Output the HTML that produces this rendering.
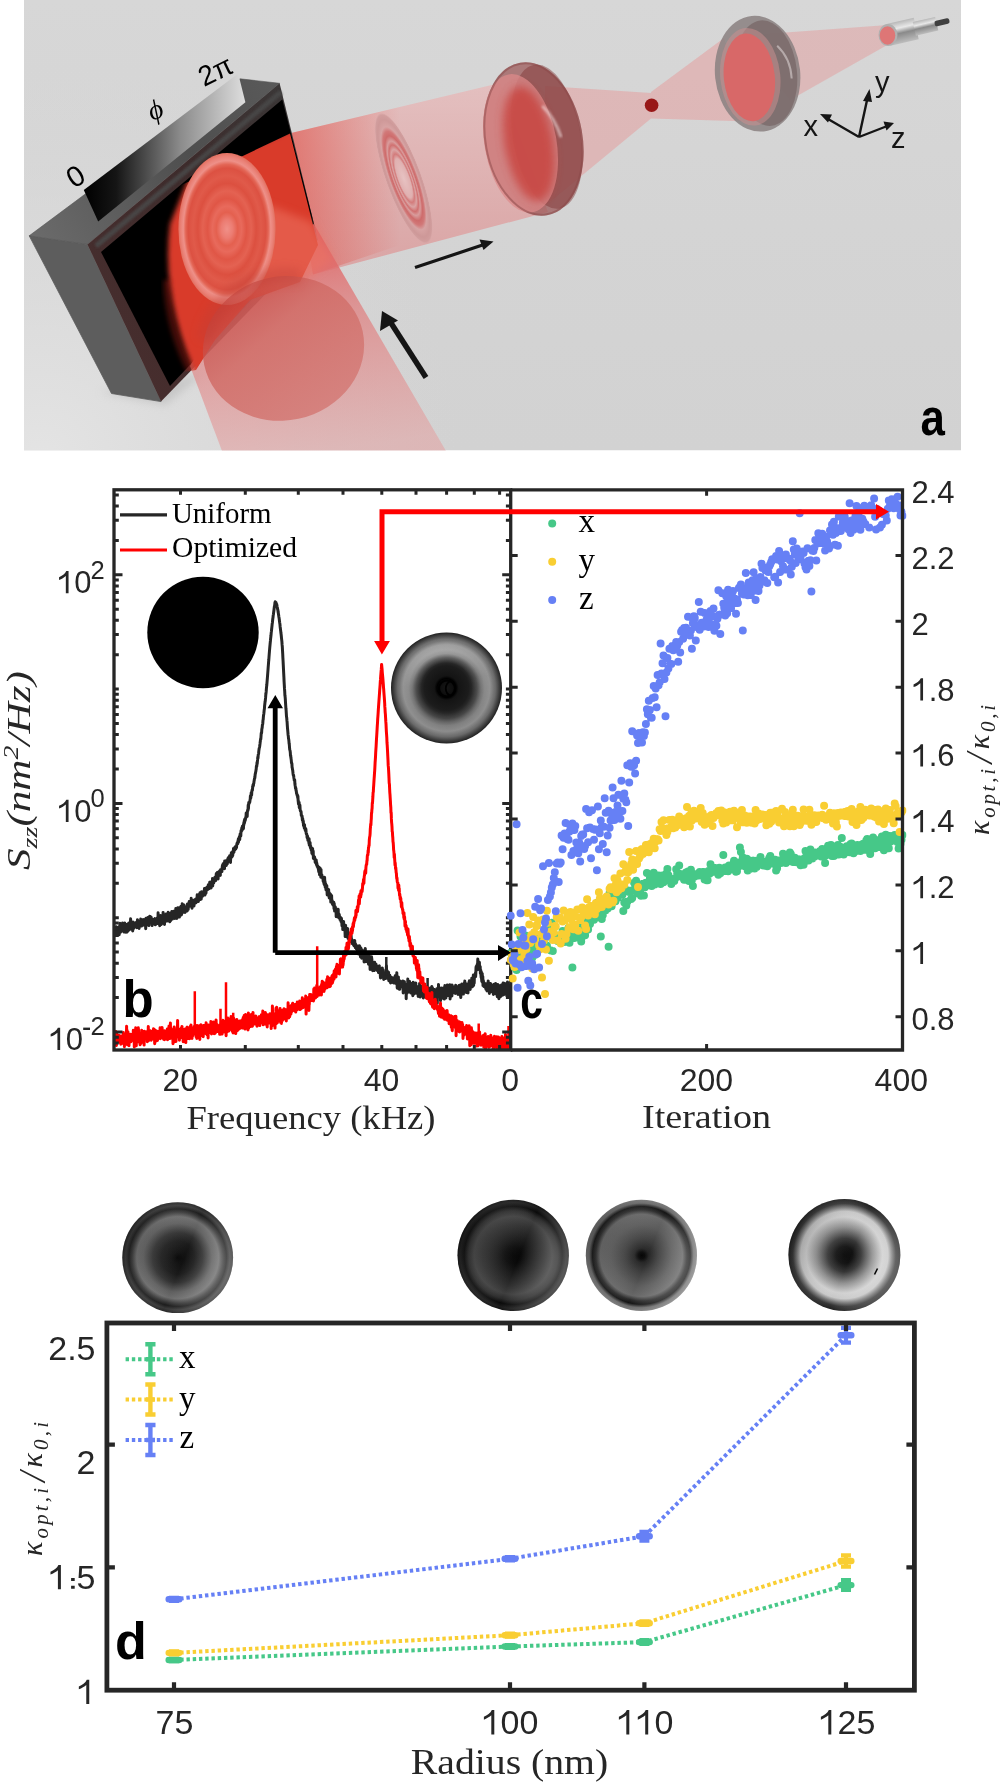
<!DOCTYPE html><html><head><meta charset="utf-8"><style>html,body{margin:0;padding:0;background:#fff;overflow:hidden}svg{display:block;will-change:transform}text{font-kerning:normal}</style></head><body>
<svg width="1000" height="1783" viewBox="0 0 1000 1783">
<rect width="1000" height="1783" fill="#fff"/>
<defs>
<clipPath id="ca"><rect x="24" y="0" width="937" height="450.5"/></clipPath>
<linearGradient id="abg" x1="0" y1="0" x2="0" y2="1"><stop offset="0" stop-color="#d7d7d7"/><stop offset="0.5" stop-color="#d4d4d4"/><stop offset="1" stop-color="#d2d2d2"/></linearGradient>
<radialGradient id="abg2" gradientUnits="userSpaceOnUse" cx="40" cy="460" r="420"><stop offset="0" stop-color="#e4e4e4" stop-opacity="1"/><stop offset="0.5" stop-color="#dedede" stop-opacity="0.6"/><stop offset="1" stop-color="#d6d6d6" stop-opacity="0"/></radialGradient>
<linearGradient id="gtop" gradientUnits="userSpaceOnUse" x1="40" y1="240" x2="280" y2="80"><stop offset="0" stop-color="#6a6a6a"/><stop offset="0.6" stop-color="#4e4e4e"/><stop offset="1" stop-color="#5a5a5a"/></linearGradient>
<linearGradient id="gemit" gradientUnits="userSpaceOnUse" x1="295" y1="0" x2="400" y2="0"><stop offset="0" stop-color="#e04a40" stop-opacity="0.55"/><stop offset="1" stop-color="#e04a40" stop-opacity="0"/></linearGradient>
<linearGradient id="gbar" x1="0" y1="0" x2="1" y2="0"><stop offset="0" stop-color="#000"/><stop offset="0.2" stop-color="#151515"/><stop offset="0.6" stop-color="#8c8c8c"/><stop offset="1" stop-color="#dedede"/></linearGradient>
<linearGradient id="gframe" x1="0" y1="1" x2="1" y2="0"><stop offset="0" stop-color="#4a2e2e"/><stop offset="0.6" stop-color="#3d2c2c"/><stop offset="1" stop-color="#3a3a3a"/></linearGradient>
<radialGradient id="grings" cx="0.5" cy="0.5" r="0.5">
<stop offset="0" stop-color="#f09088"/><stop offset="0.12" stop-color="#ec7c72"/><stop offset="0.22" stop-color="#e4604f"/><stop offset="0.3" stop-color="#e86a5c"/>
<stop offset="0.4" stop-color="#e05646"/><stop offset="0.5" stop-color="#e46252"/><stop offset="0.6" stop-color="#dc5040"/><stop offset="0.7" stop-color="#e05a4a"/>
<stop offset="0.8" stop-color="#dc5142"/><stop offset="0.85" stop-color="#e36656"/><stop offset="0.9" stop-color="#ee9088"/><stop offset="0.95" stop-color="#ea8278"/><stop offset="1" stop-color="#e27060"/></radialGradient>
<radialGradient id="grings2" cx="0.5" cy="0.5" r="0.5">
<stop offset="0" stop-color="#e8c4c4"/><stop offset="0.3" stop-color="#e0b0b0"/><stop offset="0.37" stop-color="#d27676"/><stop offset="0.44" stop-color="#daa2a2"/>
<stop offset="0.51" stop-color="#cf6a6a"/><stop offset="0.57" stop-color="#d89a9a"/><stop offset="0.65" stop-color="#cc6464"/><stop offset="0.72" stop-color="#d07272"/><stop offset="0.79" stop-color="#d6a2a2"/><stop offset="0.9" stop-color="#cc9696"/><stop offset="0.97" stop-color="#d09c9c"/><stop offset="1" stop-color="#d8a8a8" stop-opacity="0.6"/></radialGradient>
<linearGradient id="ginc" gradientUnits="userSpaceOnUse" x1="300" y1="240" x2="330" y2="450"><stop offset="0" stop-color="#e06060" stop-opacity="0.9"/><stop offset="0.35" stop-color="#e07a7a" stop-opacity="0.7"/><stop offset="1" stop-color="#e4a0a0" stop-opacity="0.55"/></linearGradient>
<linearGradient id="gcirc" x1="0.15" y1="0.05" x2="0.75" y2="0.95"><stop offset="0" stop-color="#c03a34" stop-opacity="0.55"/><stop offset="0.4" stop-color="#d06a64" stop-opacity="0.8"/><stop offset="1" stop-color="#d47a76" stop-opacity="0.85"/></linearGradient>
<linearGradient id="gbeam" x1="0" y1="0" x2="0" y2="1"><stop offset="0" stop-color="#e8b8b8"/><stop offset="0.5" stop-color="#e2a6a6"/><stop offset="1" stop-color="#dc9494"/></linearGradient>
<radialGradient id="glens1" cx="0.55" cy="0.5" r="0.55"><stop offset="0" stop-color="#c83c36"/><stop offset="0.6" stop-color="#d05450"/><stop offset="1" stop-color="#c86a68"/></radialGradient>
<radialGradient id="glens2" cx="0.5" cy="0.5" r="0.55"><stop offset="0" stop-color="#c95a58"/><stop offset="1" stop-color="#d06464"/></radialGradient>
<linearGradient id="gmetal" x1="0" y1="0" x2="0" y2="1"><stop offset="0" stop-color="#b8b8b8"/><stop offset="0.3" stop-color="#e8e8e8"/><stop offset="0.55" stop-color="#8a8a8a"/><stop offset="1" stop-color="#bdbdbd"/></linearGradient>
<filter id="bl2" x="-20%" y="-20%" width="140%" height="140%"><feGaussianBlur stdDeviation="2.5"/></filter>
<filter id="bl4" x="-30%" y="-30%" width="160%" height="160%"><feGaussianBlur stdDeviation="4"/></filter>
<filter id="bl10" x="-50%" y="-50%" width="200%" height="200%"><feGaussianBlur stdDeviation="10"/></filter>
<filter id="bl1"><feGaussianBlur stdDeviation="0.8"/></filter>
</defs>
<g clip-path="url(#ca)">
<rect x="24" y="0" width="937" height="450.5" fill="url(#abg)"/>
<rect x="24" y="0" width="937" height="450.5" fill="url(#abg2)"/>
<path d="M100 392 L165 405 L205 372 L175 380 Z" fill="#b8b8b8" opacity="0.6" filter="url(#bl4)"/>
<path d="M740 36 L888 25 L889 44 L790 100 Z" fill="#e2a2a2" opacity="0.55"/>
<path d="M651 92 L724 38 L750 121.5 L651 118.5 Z" fill="#e2a4a4" opacity="0.6"/>
<g transform="rotate(-6 757.6 73.7)">
<ellipse cx="757.6" cy="73.7" rx="42.6" ry="58" fill="#8a8080" opacity="0.85"/>
<ellipse cx="766" cy="74" rx="31" ry="53" fill="#6e5a5a" opacity="0.55"/>
<ellipse cx="750" cy="76" rx="30" ry="49" fill="#c89090" opacity="0.55"/>
<ellipse cx="749" cy="76.5" rx="25.5" ry="44" fill="#d86868"/>
<path d="M780 48 Q 792 62 791 82" stroke="#d8d0d0" stroke-width="2" fill="none" opacity="0.6"/>
</g>
<g transform="rotate(-13 888 35)">
<rect x="888" y="24" width="29" height="22" fill="url(#gmetal)"/>
<rect x="915" y="28" width="23" height="14" fill="url(#gmetal)"/>
<rect x="936" y="32" width="15" height="5.5" rx="2" fill="#404040"/>
</g>
<ellipse cx="888" cy="35" rx="9.5" ry="11" fill="#b0b0b0"/>
<ellipse cx="887.5" cy="35.5" rx="7.8" ry="9.2" fill="#de7676"/>
<path d="M545 86 L651 93 L651 118.5 L545 206 Z" fill="#e2a4a4" opacity="0.6"/>
<circle cx="651.6" cy="105.3" r="6.8" fill="#981818"/>
<path d="M289 133.5 L500 83 L548 212 L313 274.5 Z" fill="url(#gbeam)" opacity="0.75"/>
<path d="M289 133.5 L400 107 L400 245 L313 274.5 Z" fill="url(#gemit)"/>
<ellipse cx="403.7" cy="178.3" rx="17.5" ry="69" fill="url(#grings2)" opacity="0.9" transform="rotate(-20 403.7 178.3)"/>
<g transform="rotate(-10 533.5 139)">
<ellipse cx="533.5" cy="139" rx="49" ry="77.5" fill="#9c5a5a" opacity="0.75"/>
<ellipse cx="547" cy="139" rx="34" ry="73" fill="#7e3434" opacity="0.45"/>
<ellipse cx="520" cy="141" rx="36" ry="70" fill="#dc8a8a" opacity="0.75"/>
<ellipse cx="528" cy="143" rx="24" ry="58" fill="#c83c38" opacity="0.75" filter="url(#bl4)"/>
<path d="M548 108 Q 558 122 561 142" stroke="#f4e4e4" stroke-width="3" fill="none" opacity="0.6" filter="url(#bl1)"/>
<ellipse cx="533.5" cy="139" rx="48" ry="76.5" fill="none" stroke="#8a4848" stroke-width="2" opacity="0.5"/>
</g>
<polygon points="29.2,235.8 87.4,244.4 161,401.6 111.5,393.5" fill="#5d5d5d" stroke="#5d5d5d" stroke-width="0.8"/>
<polygon points="29.2,235.8 240,78.8 279.6,83.3 87.4,244.4" fill="url(#gtop)" stroke="#555" stroke-width="0.6"/>
<polygon points="87.4,244.4 279.6,83.3 318,240 161,401.6" fill="url(#gframe)"/>
<polygon points="101,252 282.3,99.5 316,232 170,386" fill="#000"/>
<path d="M96 246 L281 92" stroke="#4a4a4a" stroke-width="5" opacity="0.85" filter="url(#bl1)"/>
<polygon points="83.8,190 98.2,221.6 245.4,102.2 238.2,73.4" fill="url(#gbar)"/>
<path d="M190 366 L222 451 L446 451 L314 224 L260 250 Z" fill="url(#ginc)"/>
<clipPath id="cslm"><path d="M150 200 L290 133.5 L318 245 L300 282 L250 300 L215 340 L196 370 L150 378 Z"/></clipPath>
<g clip-path="url(#cslm)">
<path d="M190 174 L295 128 L345 250 L262 340 L200 385 Q 160 300 170 224 Z" fill="#d93a2b" filter="url(#bl2)"/>
<path d="M194 378 Q 168 330 167 280" stroke="#b02018" stroke-width="7" fill="none" opacity="0.4" filter="url(#bl2)"/>
</g>
<path d="M268 205 L312 222 L333 260 L300 283 L245 300 L255 255 Z" fill="#ee7464" opacity="0.55" filter="url(#bl4)"/>
<ellipse cx="227" cy="229" rx="48.6" ry="76" fill="url(#grings)"/>
<ellipse cx="283.5" cy="348.4" rx="81" ry="72" fill="url(#gcirc)" transform="rotate(-12 283.5 348.4)"/>
<path d="M205 340 A80 72.4 0 0 1 300 277" stroke="#c04038" stroke-width="16" fill="none" opacity="0.35" filter="url(#bl4)"/>
<path d="M415 267.6 L484 244.5" stroke="#151515" stroke-width="3.2"/><path d="M493.5 241.5 L479.5 239.5 L483.5 250 Z" fill="#151515"/>
<path d="M426 377.5 L391 323" stroke="#151515" stroke-width="5.5"/><path d="M382 311 L380 331 L398 320.5 Z" fill="#151515"/>
<path d="M859 137 L867.5 98 M859 137 L828 119 M859 137 L886 126.5" stroke="#151515" stroke-width="2.4"/>
<path d="M869.5 89 L863 101 L872 102 Z M820 114 L832 114.5 L828 122.5 Z M894 123 L883.5 121.5 L886.5 130.5 Z" fill="#151515"/>
<text font-family="Liberation Sans" font-size="29" fill="#151515" x="875" y="92">y</text><text font-family="Liberation Sans" font-size="29" fill="#151515" x="803.5" y="135.5">x</text><text font-family="Liberation Sans" font-size="29" fill="#151515" x="891" y="147.5">z</text>
<text font-family="Liberation Sans" font-size="29" fill="#000" transform="translate(74 189) rotate(-32)">0</text>
<text font-family="Liberation Serif" font-style="italic" font-size="28" fill="#000" transform="translate(152 121) rotate(-22)">ϕ</text>
<text font-family="Liberation Sans" font-size="28" fill="#000" transform="translate(204 87) rotate(-26)">2π</text>
<text transform="translate(920.5 435) scale(0.86 1)" font-family="Liberation Sans" font-weight="bold" font-size="51" fill="#000">a</text>
</g>
<g id="pb">
<clipPath id="cb"><rect x="114.0" y="489.8" width="396.7" height="560.2"/></clipPath>
<g clip-path="url(#cb)" fill="none" stroke-linejoin="round">
<path d="M113 936.4L113.2 932.9 113.4 931.9 113.6 926.8 113.8 930.8 114 930.6 114.2 931.2 114.4 929.7 114.6 931.2 114.8 930 115 927.7 115.2 933.4 115.4 933.3 115.6 935.3 115.8 931 116 929.8 116.2 929.3 116.4 926.7 116.6 933.1 116.8 927.7 117 927.4 117.2 929.9 117.4 934.2 117.6 930.9 117.8 927.6 118 928.3 118.2 931.7 118.4 929.6 118.6 928 118.8 929.3 119 931.7 119.2 934.8 119.4 926.5 119.6 928 119.8 927.5 120 923.3 120.2 927 120.4 926.7 120.6 932.2 120.8 928.9 121 925 121.2 930.7 121.4 928.1 121.6 924.5 121.8 927.4 122 927.3 122.2 926.5 122.4 928.8 122.6 922.9 122.8 927.9 123 931.1 123.2 930.6 123.4 931.2 123.6 931.2 123.8 932 124 925.3 124.2 930.3 124.4 923.3 124.6 926.5 124.8 923.1 125 930.5 125.2 931.2 125.4 927.2 125.6 932.2 125.8 925.9 126 927.9 126.2 927.9 126.4 924.7 126.6 928.5 126.8 932.2 127 924.6 127.2 929.5 127.4 926.7 127.6 931.5 127.8 928.2 128 928.6 128.2 928.5 128.4 927.4 128.6 923.2 128.8 930.2 129 923.1 129.2 927.2 129.4 928 129.6 924.3 129.8 926.7 130 929.3 130.2 926.2 130.4 923.9 130.6 918.8 130.8 923.6 131 924.5 131.1 924.6 131.3 923.5 131.5 926.8 131.7 924.3 131.9 925.4 132.1 927.3 132.3 923.4 132.5 924.8 132.7 930.9 132.9 927.6 133.1 922.1 133.3 925.1 133.5 926.6 133.7 928.3 133.9 925.5 134.1 923.7 134.3 923.1 134.5 926.5 134.7 925.7 134.9 923.5 135.1 924.3 135.3 923.6 135.5 926.4 135.7 922.8 135.9 925.7 136.1 926.6 136.3 925.6 136.5 922.3 136.7 927.7 136.9 922.5 137.1 925.2 137.3 922.2 137.5 919.7 137.7 924.6 137.9 924.7 138.1 923.7 138.3 924.5 138.5 922.2 138.7 921.9 138.9 923.3 139.1 928.4 139.3 925.6 139.5 922.2 139.7 924.9 139.9 922.2 140.1 922.2 140.3 925.5 140.5 922 140.7 919.1 140.9 920.9 141.1 923.3 141.3 923.4 141.5 926.1 141.7 921.2 141.9 924.7 142.1 923.9 142.3 922.5 142.5 924.9 142.7 924 142.9 920.5 143.1 925.3 143.3 919.6 143.5 922.7 143.7 922.5 143.9 923.5 144.1 920.6 144.3 922.3 144.5 922 144.7 924.7 144.9 920.3 145.1 922.4 145.3 921.5 145.5 918.9 145.7 928.7 145.9 921.8 146.1 918.3 146.3 925.4 146.5 919.2 146.7 922.7 146.9 923.9 147.1 920.1 147.3 920.6 147.5 920.3 147.7 921.3 147.9 917.6 148.1 918.5 148.3 921.1 148.5 924 148.7 922.9 148.9 925.6 149.1 923 149.3 920 149.5 920.9 149.7 916.2 149.9 918.8 150.1 918.6 150.3 921.7 150.5 922.6 150.7 919.6 150.9 919.5 151.1 917.1 151.3 920.5 151.5 921.4 151.7 921.8 151.9 918.8 152.1 925.6 152.3 923.6 152.5 920.3 152.7 919.2 152.9 919.7 153.1 920.8 153.3 920.4 153.5 921.5 153.7 922.2 153.9 923.6 154.1 923 154.3 919.9 154.5 921.1 154.7 919.2 154.9 918.6 155.1 924.7 155.3 918.8 155.5 924.8 155.7 919 155.9 920.5 156.1 922.5 156.3 919.8 156.5 920.7 156.7 919.1 156.9 918.5 157.1 919.2 157.3 917.9 157.5 923.5 157.7 919 157.9 923.6 158.1 912.8 158.3 919.4 158.5 920.6 158.7 918.5 158.9 921.8 159.1 920.7 159.3 918.4 159.5 920.1 159.7 925.8 159.9 919.6 160.1 919.6 160.3 917.8 160.5 919.1 160.7 915.6 160.9 918.2 161.1 924.6 161.3 921.2 161.5 920.1 161.7 921.2 161.9 923 162.1 919.9 162.3 923.4 162.5 920.9 162.7 918.7 162.9 922.4 163.1 912.4 163.3 916.7 163.5 918.7 163.7 915.8 163.9 917.6 164.1 916.3 164.3 916.3 164.5 924.4 164.7 919.3 164.9 917.6 165.1 920.8 165.3 917 165.5 919.7 165.7 918.3 165.9 921.3 166.1 913.9 166.3 919.2 166.5 917.5 166.7 914.4 166.9 919.7 167.1 915 167.3 920.9 167.4 918.2 167.6 918.6 167.8 917 168 919 168.2 912.2 168.4 916.8 168.6 915.1 168.8 917.2 169 916.4 169.2 917.9 169.4 914.3 169.6 920.7 169.8 921.8 170 915.6 170.2 916.1 170.4 916.7 170.6 919 170.8 920.5 171 912.9 171.2 914.3 171.4 913.1 171.6 912.9 171.8 911.6 172 916.4 172.2 912.6 172.4 919 172.6 917.5 172.8 912.7 173 912.7 173.2 913.6 173.4 918.3 173.6 912.9 173.8 911.3 174 914.6 174.2 915.6 174.4 913 174.6 918.4 174.8 915 175 915.5 175.2 912.3 175.4 914.1 175.6 913.8 175.8 908.6 176 914.7 176.2 909.6 176.4 913.8 176.6 910.2 176.8 918.5 177 914.3 177.2 915.5 177.4 915.6 177.6 910.1 177.8 907.8 178 912.3 178.2 915.1 178.4 913.1 178.6 914.7 178.8 914.9 179 909.1 179.2 913.2 179.4 917.1 179.6 911 179.8 907.4 180 911.5 180.2 910.9 180.4 912.9 180.6 909.7 180.8 911.9 181 906.3 181.2 913.4 181.4 915 181.6 914.2 181.8 907.5 182 911.7 182.2 903.8 182.4 911.4 182.6 910.4 182.8 908.1 183 911.1 183.2 910.5 183.4 912.3 183.6 910.2 183.8 910.4 184 905.1 184.2 906.8 184.4 908.3 184.6 910 184.8 909.1 185 912.5 185.2 906.9 185.4 908.2 185.6 909.2 185.8 907.9 186 909.5 186.2 906.8 186.4 911.3 186.6 907.1 186.8 910.3 187 907.5 187.2 910.9 187.4 904.1 187.6 908.3 187.8 906 188 907.4 188.2 909.4 188.4 903.9 188.6 903.3 188.8 903.9 189 906.6 189.2 901.6 189.4 906 189.6 902.6 189.8 902.8 190 904.4 190.2 906 190.4 903.5 190.6 903.6 190.8 904.5 191 903.8 191.2 898.2 191.4 903.1 191.6 904.1 191.8 906.3 192 908.2 192.2 904.9 192.4 903.4 192.6 900.9 192.8 903.1 193 904.5 193.2 905.4 193.4 900.4 193.6 902.7 193.8 903.9 194 906 194.2 902.3 194.4 900.3 194.6 899.8 194.8 900.3 195 899.5 195.2 902.6 195.4 903 195.6 902 195.8 902.9 196 899 196.2 900.7 196.4 898.8 196.6 899.6 196.8 902 197 899 197.2 894.8 197.4 898.2 197.6 897 197.8 895 198 896.4 198.2 900.1 198.4 901.5 198.6 896.5 198.8 899.6 199 899.8 199.2 894.5 199.4 896.7 199.6 896.5 199.8 896.8 200 892.7 200.2 895.3 200.4 898.1 200.6 898.4 200.8 899.4 201 894.5 201.2 899.1 201.4 896.3 201.6 891.7 201.8 896.1 202 893.5 202.2 895.2 202.4 893.6 202.6 896.2 202.8 894 203 892.6 203.2 895.1 203.4 893.4 203.6 891.7 203.7 895.1 203.9 891.3 204.1 890.6 204.3 890.6 204.5 888.5 204.7 890.2 204.9 895.1 205.1 889 205.3 890.8 205.5 888.2 205.7 889.1 205.9 893.4 206.1 891.8 206.3 888.4 206.5 889.5 206.7 887.6 206.9 887.5 207.1 887 207.3 886.8 207.5 889.2 207.7 889.5 207.9 889.1 208.1 887.5 208.3 884.8 208.5 887.3 208.7 885.3 208.9 888.8 209.1 887.9 209.3 888.1 209.5 885.6 209.7 882.3 209.9 887.8 210.1 888.1 210.3 882.3 210.5 885.4 210.7 887.3 210.9 882.4 211.1 888 211.3 883.4 211.5 881.7 211.7 886.4 211.9 884 212.1 881.8 212.3 884.6 212.5 878.6 212.7 886 212.9 880.4 213.1 882.4 213.3 880.7 213.5 882.1 213.7 882.8 213.9 879 214.1 882 214.3 879.6 214.5 878.5 214.7 879.1 214.9 877.3 215.1 877.4 215.3 880.6 215.5 878.2 215.7 880.5 215.9 878.8 216.1 875.6 216.3 873.6 216.5 875.7 216.7 877.3 216.9 876.5 217.1 874.5 217.3 877.9 217.5 872.2 217.7 872.8 217.9 875.2 218.1 879 218.3 875.2 218.5 872.1 218.7 875 218.9 874.8 219.1 875 219.3 872.1 219.5 871.1 219.7 872.6 219.9 872.8 220.1 874.8 220.3 875.4 220.5 869.7 220.7 869.8 220.9 870.4 221.1 869.8 221.3 870.9 221.5 870.6 221.7 869.8 221.9 871.6 222.1 868.5 222.3 866.5 222.5 865.2 222.7 866 222.9 865.6 223.1 863.8 223.3 868.3 223.5 867.1 223.7 865.6 223.9 864.5 224.1 862.9 224.3 863.9 224.5 868.7 224.7 860.9 224.9 865 225.1 865.8 225.3 864.4 225.5 863.3 225.7 865 225.9 861.3 226.1 864 226.3 865.4 226.5 860.6 226.7 860.7 226.9 862.2 227.1 863.4 227.3 863.8 227.5 862.3 227.7 859.6 227.9 858.5 228.1 860.6 228.3 860.6 228.5 857.6 228.7 859.4 228.9 859.6 229.1 860.6 229.3 856.7 229.5 859.1 229.7 855.7 229.9 856.7 230.1 857 230.3 859.5 230.5 862.4 230.7 856.7 230.9 856.8 231.1 857.3 231.3 852.9 231.5 856.2 231.7 852.4 231.9 857 232.1 856.4 232.3 854.4 232.5 851.8 232.7 855.7 232.9 852.9 233.1 852.3 233.3 852.7 233.5 848.4 233.7 851.7 233.9 852.3 234.1 850.8 234.3 850 234.5 847.8 234.7 850.1 234.9 848.9 235.1 848.2 235.3 846.8 235.5 848.8 235.7 849 235.9 847.1 236.1 847.5 236.3 847.8 236.5 847.7 236.7 845 236.9 843.9 237.1 843.1 237.3 843.3 237.5 843.6 237.7 843.8 237.9 841.1 238.1 841.5 238.3 839.1 238.5 842.2 238.7 839 238.9 839.7 239.1 837.5 239.3 837.6 239.5 836.4 239.7 839.6 239.9 836.9 240 835.5 240.2 833.8 240.4 833.7 240.6 834.9 240.8 836 241 830.7 241.2 830.9 241.4 831.4 241.6 830.1 241.8 828 242 829.8 242.2 830.3 242.4 826.2 242.6 828.2 242.8 828.7 243 828 243.2 825.3 243.4 828.6 243.6 825.4 243.8 822.8 244 824.7 244.2 821 244.4 823.1 244.6 819.4 244.8 821.6 245 819 245.2 820.6 245.4 819.4 245.6 818.2 245.8 817 246 817.6 246.2 813 246.4 815.2 246.6 814.4 246.8 813.9 247 813.5 247.2 816.5 247.4 811 247.6 811.1 247.8 809.4 248 810.5 248.2 805.1 248.4 809 248.6 805.2 248.8 802.4 249 803 249.2 803.3 249.4 803 249.6 801.8 249.8 802 250 800.1 250.2 799.3 250.4 795.9 250.6 798.2 250.8 797.9 251 795.4 251.2 792.8 251.4 792.5 251.6 795.1 251.8 791.6 252 790.6 252.2 789.5 252.4 790.3 252.6 787.9 252.8 786.6 253 784.9 253.2 785.4 253.4 785.6 253.6 783.3 253.8 783.4 254 781.6 254.2 780.4 254.4 779.4 254.6 778.1 254.8 778 255 776.3 255.2 774.1 255.4 773.6 255.6 772.2 255.8 771.6 256 770.1 256.2 769.1 256.4 766.1 256.6 766.6 256.8 766.2 257 762.5 257.2 763.9 257.4 761.4 257.6 759.7 257.8 757 258 758.2 258.2 755.1 258.4 754.2 258.6 753.7 258.8 751.1 259 749.7 259.2 748.2 259.4 747.7 259.6 746.8 259.8 745.3 260 743.9 260.2 741.9 260.4 740.8 260.6 738.8 260.8 739.2 261 736.5 261.2 733.6 261.4 732.6 261.6 732.9 261.8 729.4 262 728.4 262.2 727.4 262.4 724.9 262.6 724.5 262.8 723.2 263 720.1 263.2 719.5 263.4 716.7 263.6 715 263.8 713.9 264 712.1 264.2 709.9 264.4 708.8 264.6 705.9 264.8 704.3 265 702.4 265.2 701.3 265.4 699.4 265.6 697.4 265.8 694.7 266 693.3 266.2 691.4 266.4 688.6 266.6 686.7 266.8 685 267 682.6 267.2 680.1 267.4 677.7 267.6 675.1 267.8 672.5 268 669.8 268.2 667 268.4 664.6 268.6 661.9 268.8 660 269 657 269.2 654.4 269.4 651.9 269.6 649.5 269.8 647.2 270 645.1 270.2 642.8 270.4 641 270.6 638.7 270.8 637 271 635.3 271.2 632.9 271.4 631.4 271.6 629.5 271.8 627.6 272 625.8 272.2 623.7 272.4 622.7 272.6 620.5 272.8 618.7 273 617.6 273.2 615.3 273.4 614.5 273.6 612.8 273.8 611.3 274 609.7 274.2 608 274.4 606.4 274.6 605.9 274.8 604.1 275 602.8 275.1 602.4 275.2 601.8 275.4 602 275.6 602.2 275.8 602.4 276 602.6 276.1 603.1 276.3 604.1 276.5 604.5 276.7 604.3 276.9 605.3 277.1 606.6 277.3 607.4 277.5 608.3 277.7 609.7 277.9 610 278.1 611.9 278.3 612.9 278.5 614.2 278.7 615.5 278.9 617 279.1 618.1 279.3 619.5 279.5 621.3 279.7 622.7 279.9 623.9 280.1 626.2 280.3 627.8 280.5 629.6 280.7 630.9 280.9 632.8 281.1 634.3 281.3 636 281.5 638.1 281.7 639.9 281.9 641.7 282.1 644.7 282.3 646.7 282.5 650.1 282.7 653.7 282.9 657.9 283.1 661.4 283.3 665.4 283.5 669.4 283.7 673.4 283.9 677.2 284.1 681.7 284.3 685.2 284.5 688.7 284.7 691.1 284.9 695.2 285.1 696.6 285.3 698.9 285.5 702.4 285.7 705.3 285.9 708.3 286.1 710 286.3 713.4 286.5 716.6 286.7 717.7 286.9 720.2 287.1 722 287.3 725.4 287.5 728.1 287.7 730.2 287.9 732.4 288.1 734.9 288.3 736 288.5 738.5 288.7 739.1 288.9 740.9 289.1 743.4 289.3 744.4 289.5 747.1 289.7 749.4 289.9 750.2 290.1 750.9 290.3 752.5 290.5 755.8 290.7 755.5 290.9 757.8 291.1 758.9 291.3 760.7 291.5 763 291.7 763 291.9 763.6 292.1 767.5 292.3 767.8 292.5 769.6 292.7 770.2 292.9 772.2 293.1 774 293.3 775.3 293.5 774.9 293.7 776.1 293.9 778 294.1 779 294.3 780.5 294.5 780.4 294.7 779.8 294.9 783.8 295.1 785.3 295.3 786.2 295.5 788.4 295.7 788.6 295.9 788.3 296.1 790.9 296.3 790.7 296.5 793.3 296.7 793.1 296.9 794.4 297.1 795.1 297.3 795.9 297.5 795.1 297.7 797.9 297.9 796 298.1 800.3 298.3 801.9 298.5 804.1 298.7 803 298.9 802.6 299.1 802.4 299.3 807.7 299.5 804.4 299.7 808.2 299.9 805 300.1 808.8 300.3 810.6 300.5 811 300.7 811.4 300.9 811.2 301.1 811.9 301.3 815.3 301.5 815.4 301.7 815.4 301.9 816.7 302.1 816 302.3 819.5 302.5 820.6 302.7 818.6 302.9 820.6 303.1 822.7 303.3 821.1 303.5 825.7 303.7 825.7 303.9 823.9 304.1 826.4 304.3 828.2 304.5 824.7 304.7 828.2 304.9 827.8 305.1 828.4 305.3 830.5 305.5 829.4 305.7 828.7 305.9 829.4 306.1 832.2 306.3 833.9 306.5 833.6 306.7 834.1 306.9 835 307.1 837.7 307.3 837.2 307.5 835.9 307.7 837.2 307.9 840.3 308.1 838.1 308.3 839 308.5 840.3 308.7 839.3 308.9 843.1 309.1 838.7 309.3 845.2 309.5 842.8 309.7 842.1 309.9 845.2 310.1 842.6 310.3 846.9 310.5 847.9 310.7 846.2 310.9 847.1 311.1 850 311.3 847.8 311.5 849.6 311.7 850.7 311.9 853.3 312.1 850.4 312.3 851.8 312.4 854.3 312.6 848.5 312.8 853 313 850.7 313.2 851.3 313.4 858.5 313.6 856 313.8 858.7 314 856.2 314.2 858.1 314.4 856.9 314.6 857.2 314.8 858.6 315 859.5 315.2 862.5 315.4 859.9 315.6 861.5 315.8 860.8 316 862.1 316.2 859.9 316.4 864.8 316.6 862.3 316.8 863.9 317 863.9 317.2 866.6 317.4 866.3 317.6 865.8 317.8 866.6 318 867.4 318.2 868.7 318.4 868.7 318.6 870.7 318.8 871.8 319 870.4 319.2 867.2 319.4 873.6 319.6 874.8 319.8 870.5 320 870.9 320.2 868.3 320.4 874.2 320.6 871.3 320.8 877.3 321 869.4 321.2 874.9 321.4 876.6 321.6 875 321.8 874.7 322 877.3 322.2 876.3 322.4 877.2 322.6 878.3 322.8 877.8 323 878.9 323.2 881.5 323.4 879.7 323.6 881.3 323.8 879.9 324 883.8 324.2 879.9 324.4 885 324.6 877.3 324.8 882.2 325 881.3 325.2 887.2 325.4 886.2 325.6 883.4 325.8 885.4 326 889.9 326.2 887.5 326.4 889.3 326.6 885.4 326.8 885.9 327 890.8 327.2 895 327.4 889.4 327.6 892.3 327.8 889.5 328 894.7 328.2 891.6 328.4 892.1 328.6 889.4 328.8 893.1 329 894.8 329.2 897.9 329.4 892.8 329.6 897.9 329.8 895.5 330 896.1 330.2 895.1 330.4 893.9 330.6 895.4 330.8 902.1 331 896.3 331.2 898.4 331.4 902.3 331.6 895.6 331.8 901.7 332 900 332.2 902.1 332.4 904 332.6 902.2 332.8 902.5 333 905.1 333.2 905.3 333.4 902.7 333.6 904.4 333.8 902.2 334 908.7 334.2 903.4 334.4 907 334.6 911.1 334.8 909.4 335 907.3 335.2 906.7 335.4 907.4 335.6 911.4 335.8 910.5 336 910.2 336.2 916.8 336.4 909.1 336.6 910.4 336.8 911.1 337 912.9 337.2 913.6 337.4 912.7 337.6 915.5 337.8 915.5 338 913.9 338.2 909.2 338.4 917.4 338.6 913.6 338.8 914.7 339 916.4 339.2 914.2 339.4 915.6 339.6 918.2 339.8 917.6 340 919.6 340.2 917.1 340.4 919.1 340.6 917.4 340.8 919.8 341 921.6 341.2 920.7 341.4 918.2 341.6 921.7 341.8 922.9 342 925.8 342.2 923.3 342.4 922.7 342.6 921.2 342.8 929.6 343 922.6 343.2 922.5 343.4 925.4 343.6 921.6 343.8 929.3 344 927.4 344.2 928.6 344.4 925.3 344.6 926.8 344.8 930.7 345 931.2 345.2 936.6 345.4 932.5 345.6 925.2 345.8 930.7 346 929.9 346.2 934 346.4 931.3 346.6 933.2 346.8 931.5 347 934.2 347.2 936.8 347.4 931.8 347.6 928.4 347.8 931.4 348 938.5 348.2 935.3 348.4 934.3 348.6 932.9 348.7 938.6 348.9 936.9 349.1 936.2 349.3 935.3 349.5 936.7 349.7 936.6 349.9 939.3 350.1 941.5 350.3 933.2 350.5 934.8 350.7 938.7 350.9 939.5 351.1 935.4 351.3 938.2 351.5 939.1 351.7 939.3 351.9 939.5 352.1 940.8 352.3 943.7 352.5 943.6 352.7 943.5 352.9 942.9 353.1 940.5 353.3 941.4 353.5 944.9 353.7 943.6 353.9 945.7 354.1 944.5 354.3 944.3 354.5 945.6 354.7 940.4 354.9 944.4 355.1 943.5 355.3 947.7 355.5 943.8 355.7 946.6 355.9 945 356.1 947.8 356.3 948.7 356.5 946.4 356.7 947.5 356.9 947.9 357.1 949.9 357.3 947 357.5 948.3 357.7 947.2 357.9 946 358.1 949.4 358.3 950.4 358.5 947.1 358.7 954.1 358.9 947.8 359.1 952.2 359.3 951.4 359.5 945.8 359.7 950.8 359.9 946.6 360.1 951 360.3 953.5 360.5 957 360.7 954.2 360.9 947.9 361.1 951.5 361.3 957 361.5 953.4 361.7 958.2 361.9 951.3 362.1 952 362.3 950 362.5 953 362.7 957.9 362.9 951.8 363.1 957.1 363.3 956.3 363.5 957.4 363.7 954.6 363.9 955.7 364.1 962 364.3 952.4 364.5 958.4 364.7 960.9 364.9 958 365.1 961.7 365.3 948.5 365.5 956.4 365.7 954.1 365.9 956.5 366.1 957.6 366.3 959.5 366.5 955.8 366.7 961.1 366.9 954.1 367.1 961.7 367.3 958.4 367.5 954.1 367.7 954.3 367.9 954.4 368.1 957 368.3 960.4 368.5 964.2 368.7 962.8 368.9 956.7 369.1 954.1 369.3 960.2 369.5 957 369.7 960.9 369.9 959.6 370.1 969.4 370.3 956.9 370.5 963.1 370.7 967.9 370.9 961.3 371.1 960.4 371.3 967.9 371.5 956.8 371.7 958.2 371.9 959.8 372.1 964.8 372.3 966.1 372.5 963.6 372.7 970.7 372.9 963.8 373.1 964.6 373.3 963.8 373.5 968.6 373.7 965.2 373.9 964.1 374.1 970.6 374.3 969.6 374.5 968.9 374.7 962.3 374.9 963 375.1 965.7 375.3 965.9 375.5 965.5 375.7 966.3 375.9 969.2 376.1 964.3 376.3 968.3 376.5 966.5 376.7 966.4 376.9 967.2 377.1 970.5 377.3 969.3 377.5 966.2 377.7 969.8 377.9 969.4 378.1 970.4 378.3 968.6 378.5 972.6 378.7 970.9 378.9 966.4 379.1 966.1 379.3 965.9 379.5 971.7 379.7 968.5 379.9 969.7 380.1 970.7 380.3 974.9 380.5 978 380.7 971.1 380.9 977.8 381.1 973.5 381.3 975.7 381.5 971.3 381.7 968.4 381.9 973.9 382.1 976.6 382.3 967.9 382.5 972.7 382.7 973.7 382.9 975.1 383.1 970 383.3 971.8 383.5 976.6 383.7 979.5 383.9 974.3 384.1 977.2 384.3 974.8 384.5 975.8 384.7 973.4 384.8 974 385 973.1 385.2 975.3 385.4 978.6 385.6 975.9 385.8 977.5 386 973.6 386.2 978 386.4 966 386.6 971.5 386.8 975.1 387 970.6 387.2 978.2 387.4 977.2 387.6 973.8 387.8 977.1 388 972.2 388.2 974.2 388.4 976 388.6 972.3 388.8 980.8 389 975.6 389.2 981 389.4 977.4 389.6 979 389.8 975.3 390 977.3 390.2 977.1 390.4 979.3 390.6 983 390.8 977 391 978.4 391.2 980.2 391.4 981.9 391.6 979 391.8 978.2 392 977.7 392.2 979.7 392.4 980.6 392.6 977.7 392.8 979.1 393 982.6 393.2 980.2 393.4 978.6 393.6 982.8 393.8 982.9 394 982.7 394.2 983 394.4 979.7 394.6 981.8 394.8 982.2 395 981.7 395.2 975.8 395.4 981.5 395.6 982.8 395.8 983.4 396 981 396.2 982.1 396.4 976.3 396.6 977.5 396.8 972.8 397 981.7 397.2 987.8 397.4 988.3 397.6 979.2 397.8 985 398 987.1 398.2 982.2 398.4 976.9 398.6 987.9 398.8 982.3 399 982.3 399.2 989.2 399.4 985.3 399.6 986.6 399.8 989.2 400 983.6 400.2 981.1 400.4 986.9 400.6 984.4 400.8 987 401 986 401.2 982.3 401.4 985 401.6 983.9 401.8 984.3 402 985.1 402.2 986.5 402.4 986.1 402.6 981.4 402.8 987.7 403 981.1 403.2 993 403.4 983.4 403.6 985.8 403.8 990.5 404 985.5 404.2 982.2 404.4 981.7 404.6 987.4 404.8 987.9 405 989.4 405.2 987.6 405.4 985.3 405.6 988.4 405.8 991.7 406 984.5 406.2 998.8 406.4 985.9 406.6 991.4 406.8 993.6 407 990.5 407.2 988.6 407.4 990 407.6 992.1 407.8 979.1 408 989.4 408.2 986.6 408.4 985.7 408.6 988.5 408.8 988.7 409 989.8 409.2 986.4 409.4 992.1 409.6 981.5 409.8 985.3 410 984.5 410.2 988.9 410.4 987 410.6 990.5 410.8 986.2 411 993.1 411.2 991.4 411.4 987.3 411.6 983.5 411.8 985.2 412 984.1 412.2 993.3 412.4 991.8 412.6 985.2 412.8 995.7 413 988.6 413.2 982.2 413.4 993.3 413.6 994 413.8 989.8 414 986.9 414.2 994 414.4 988.3 414.6 990 414.8 991.7 415 991.2 415.2 988.7 415.4 986.9 415.6 992.9 415.8 983.1 416 991.6 416.2 991.5 416.4 992.4 416.6 989.5 416.8 991.5 417 993.4 417.2 987.4 417.4 991.1 417.6 992.2 417.8 986.8 418 987.9 418.2 996.4 418.4 994.6 418.6 988.7 418.8 993.7 419 992.7 419.2 996 419.4 995.2 419.6 983.4 419.8 990.5 420 996.1 420.2 997 420.4 989.6 420.6 987.6 420.8 992.5 421 989.6 421.1 991.7 421.3 987.9 421.5 994.4 421.7 993.8 421.9 993.4 422.1 988.3 422.3 986.3 422.5 987.7 422.7 993.7 422.9 986 423.1 994.3 423.3 998 423.5 990 423.7 991.5 423.9 995.5 424.1 995.3 424.3 990.2 424.5 991.7 424.7 992.7 424.9 991.4 425.1 994.3 425.3 993.5 425.5 996.8 425.7 986.7 425.9 996.4 426.1 995.2 426.3 992.1 426.5 993.9 426.7 995.8 426.9 993.6 427.1 991.8 427.3 993.6 427.5 990.4 427.7 988.3 427.9 989.8 428.1 990.2 428.3 993.4 428.5 995.4 428.7 993.6 428.9 997.7 429.1 992.6 429.3 990.7 429.5 990.5 429.7 989.9 429.9 991.9 430.1 997.6 430.3 988.1 430.5 994.9 430.7 993 430.9 995.9 431.1 991.5 431.3 995.5 431.5 991.5 431.7 995.3 431.9 986.6 432.1 994.8 432.3 995.7 432.5 987.9 432.7 996.1 432.9 989.5 433.1 996.6 433.3 993.3 433.5 995.6 433.7 994.6 433.9 989.3 434.1 998.5 434.3 997.4 434.5 990 434.7 995.3 434.9 994.9 435.1 991.1 435.3 989.9 435.5 997.7 435.7 992.1 435.9 996.5 436.1 999.8 436.3 995.1 436.5 990.5 436.7 996.7 436.9 988.8 437.1 990.4 437.3 1003.2 437.5 990.7 437.7 994.6 437.9 989.8 438.1 993 438.3 994 438.5 984.5 438.7 991.1 438.9 995.5 439.1 996.2 439.3 994.4 439.5 990.1 439.7 994.5 439.9 991.6 440.1 990.6 440.3 993.2 440.5 1000.7 440.7 990.1 440.9 996.6 441.1 993.9 441.3 988.1 441.5 990 441.7 992.4 441.9 991.4 442.1 993.8 442.3 989.6 442.5 989.5 442.7 996.2 442.9 992.7 443.1 989.9 443.3 992.7 443.5 998.8 443.7 990.7 443.9 987.7 444.1 995.7 444.3 999.1 444.5 996.8 444.7 988.1 444.9 985.6 445.1 996.6 445.3 991.8 445.5 994 445.7 991.7 445.9 997.9 446.1 992.5 446.3 991.2 446.5 992.7 446.7 988.2 446.9 992.7 447.1 991.8 447.3 985 447.5 988.2 447.7 987.8 447.9 986.7 448.1 993.1 448.3 995.6 448.5 992.9 448.7 986.8 448.9 985.8 449.1 994.3 449.3 990.6 449.5 991.3 449.7 987.3 449.9 984.8 450.1 998.9 450.3 989.5 450.5 990.8 450.7 987.6 450.9 996.5 451.1 990.2 451.3 990.8 451.5 991.4 451.7 991.2 451.9 995.9 452.1 985.1 452.3 993.2 452.5 989 452.7 989.7 452.9 989 453.1 992.4 453.3 986.7 453.5 989.1 453.7 992.7 453.9 988.9 454.1 989.2 454.3 992 454.5 991 454.7 989.6 454.9 990.8 455.1 987.7 455.3 993.4 455.5 986.9 455.7 985.2 455.9 991.8 456.1 986 456.3 987.2 456.5 989.6 456.7 992.6 456.9 988.6 457.1 988.7 457.3 988.7 457.4 991.3 457.6 988.3 457.8 990.8 458 994.4 458.2 989.1 458.4 988.6 458.6 986.7 458.8 987.2 459 985.6 459.2 986 459.4 987.7 459.6 990.7 459.8 991.1 460 988.1 460.2 990.5 460.4 985.1 460.6 996.2 460.8 997.5 461 988.9 461.2 990.9 461.4 989.5 461.6 991.7 461.8 987 462 984.1 462.2 991.7 462.4 985.4 462.6 990.1 462.8 985.9 463 986.3 463.2 992.1 463.4 994.1 463.6 988.2 463.8 987.3 464 989.6 464.2 986.8 464.4 982.9 464.6 988.4 464.8 981.1 465 989.8 465.2 986.7 465.4 988.9 465.6 983.4 465.8 985.7 466 990 466.2 992.5 466.4 990.7 466.6 989.1 466.8 984.2 467 989.6 467.2 988.1 467.4 986.5 467.6 991.7 467.8 984.8 468 993 468.2 985 468.4 984.8 468.6 986.6 468.8 982.5 469 985.1 469.2 986.7 469.4 980.8 469.6 983.5 469.8 981.5 470 984.4 470.2 989.4 470.4 984.1 470.6 984.6 470.8 985.8 471 981.2 471.2 985.3 471.4 982.6 471.6 981.9 471.8 978.2 472 981.4 472.2 986.4 472.4 986.6 472.6 981.4 472.8 982.2 473 980.2 473.2 977.6 473.4 974.9 473.6 985.5 473.8 976.4 474 979.6 474.2 983.3 474.4 976.5 474.6 976.5 474.8 977.2 475 974.5 475.2 975.6 475.4 973 475.6 976.7 475.8 973.8 476 967.8 476.2 966.5 476.4 967.7 476.6 967 476.8 965.8 477 970 477.2 964.4 477.4 964.5 477.6 965.8 477.8 959.1 478 966 478.2 966.3 478.4 968.7 478.6 961.8 478.8 963.6 479 966 479.2 964.8 479.4 962.2 479.6 970 479.8 967.2 480 969.9 480.2 966.5 480.4 973.5 480.6 970.4 480.8 970.2 481 975.7 481.2 977.5 481.4 972 481.6 978.8 481.8 981.5 482 978 482.2 973.4 482.4 980.3 482.6 982.5 482.8 976.5 483 985.6 483.2 980.2 483.4 980.9 483.6 985.2 483.8 982.8 484 986.6 484.2 982.9 484.4 984.6 484.6 983.7 484.8 984.7 485 986.1 485.2 986.1 485.4 983.8 485.6 988.1 485.8 985 486 989.4 486.2 987.7 486.4 985.6 486.6 983.7 486.8 986.4 487 990.9 487.2 987.2 487.4 989.9 487.6 986.6 487.8 986 488 984.9 488.2 980.9 488.4 988.4 488.6 987.6 488.8 987.4 489 990.2 489.2 984.6 489.4 993.4 489.6 983.2 489.8 988.9 490 984.2 490.2 987.3 490.4 992 490.6 983.4 490.8 989 491 988.8 491.2 989.1 491.4 989.4 491.6 991.2 491.8 990.3 492 990 492.2 991.7 492.4 991 492.6 988.4 492.8 984.9 493 991.6 493.2 987.9 493.4 994.4 493.6 987.2 493.7 985.1 493.9 992.9 494.1 986.7 494.3 984.3 494.5 993.1 494.7 984.5 494.9 993.6 495.1 986.2 495.3 990.7 495.5 990.1 495.7 983.4 495.9 989.4 496.1 988 496.3 989.9 496.5 991.2 496.7 994.7 496.9 988.7 497.1 989.2 497.3 996.7 497.5 992 497.7 992.1 497.9 984.6 498.1 985 498.3 987.8 498.5 989.1 498.7 991.3 498.9 998.7 499.1 985.6 499.3 988.4 499.5 991.8 499.7 990.7 499.9 993.5 500.1 988.8 500.3 986.8 500.5 996.7 500.7 991.3 500.9 985.9 501.1 988.7 501.3 989.6 501.5 984.9 501.7 992.4 501.9 990.4 502.1 988.7 502.3 987.7 502.5 995.3 502.7 989.6 502.9 987.3 503.1 983.1 503.3 986.4 503.5 992.2 503.7 994.8 503.9 986.1 504.1 983.2 504.3 990 504.5 989.8 504.7 992.8 504.9 987.6 505.1 990.3 505.3 983.8 505.5 985.9 505.7 988.2 505.9 988.5 506.1 991.7 506.3 994 506.5 985.3 506.7 995.6 506.9 987.5 507.1 988.6 507.3 993.7 507.5 982.1 507.7 985.2 507.9 987.3 508.1 990.3 508.3 993.6 508.5 993.7 508.7 987.1 508.9 992.6 509.1 988.7 509.3 995 509.5 989.2 509.7 993.6 509.9 986.7 510.1 992.7 510.3 985.6 510.5 990.5 510.7 984.8 510.9 989.7 511.1 987.6 511.3 986.9 511.5 991 511.7 992.8" stroke="#262626" stroke-width="3"/>
<path d="M386.3 975.8 V957M427.6 992.8 V978" stroke="#262626" stroke-width="2.5"/>
<path d="M113 1040.2L113.2 1037.1 113.4 1048 113.6 1037.4 113.8 1038.8 114 1044.6 114.2 1034.7 114.4 1036 114.6 1039.1 114.8 1037 115 1033.5 115.2 1037.5 115.4 1036.8 115.6 1040.7 115.8 1031.6 116 1035.5 116.2 1042.8 116.4 1045.6 116.6 1032.2 116.8 1040.8 117 1034.3 117.2 1034.8 117.4 1034.7 117.6 1036.5 117.8 1042.1 118 1041 118.2 1038.3 118.4 1036.7 118.6 1038.1 118.8 1037.7 119 1041.2 119.2 1035.5 119.4 1038 119.6 1037.6 119.8 1037.8 120 1039 120.2 1038.8 120.4 1043.3 120.6 1037.6 120.8 1044.2 121 1036.7 121.2 1036 121.4 1038.3 121.6 1039.3 121.8 1039 122 1043 122.2 1042.4 122.4 1039.8 122.6 1036.5 122.8 1037.4 123 1043.4 123.2 1038.7 123.4 1032.6 123.6 1035 123.8 1035.5 124 1042.3 124.2 1037.3 124.4 1046.7 124.6 1040.3 124.8 1038.2 125 1036 125.2 1041.5 125.4 1036.7 125.6 1034.4 125.8 1039.9 126 1037.7 126.2 1042.3 126.4 1037.3 126.6 1026.3 126.8 1040.7 127 1030.1 127.2 1043.6 127.4 1044.8 127.6 1035.8 127.8 1032.9 128 1032 128.2 1040.9 128.4 1036.7 128.6 1035.1 128.8 1036.5 129 1045.7 129.2 1038.8 129.4 1040.4 129.6 1040.5 129.8 1041.4 130 1041.6 130.2 1034.5 130.4 1036.5 130.6 1034.3 130.8 1034.5 131 1041.8 131.1 1035.3 131.3 1036.9 131.5 1034.5 131.7 1034.9 131.9 1040.3 132.1 1035.4 132.3 1035.3 132.5 1039.1 132.7 1039.1 132.9 1040.3 133.1 1037.8 133.3 1030.2 133.5 1039.6 133.7 1039.1 133.9 1041.1 134.1 1033.7 134.3 1047 134.5 1032.1 134.7 1039.9 134.9 1037.2 135.1 1035.1 135.3 1040.2 135.5 1035.8 135.7 1027.7 135.9 1032.3 136.1 1038.7 136.3 1045.7 136.5 1031 136.7 1036.8 136.9 1042.6 137.1 1039.2 137.3 1035.3 137.5 1031.2 137.7 1029.7 137.9 1033.8 138.1 1035.3 138.3 1027.8 138.5 1030 138.7 1037.9 138.9 1035.1 139.1 1033.7 139.3 1035 139.5 1033.4 139.7 1040.3 139.9 1043.1 140.1 1044.8 140.3 1039.4 140.5 1039.5 140.7 1042.3 140.9 1043.4 141.1 1042.3 141.3 1041.3 141.5 1034 141.7 1030.2 141.9 1039.9 142.1 1036.1 142.3 1036.2 142.5 1032.9 142.7 1031.3 142.9 1041.9 143.1 1038.2 143.3 1032.1 143.5 1037.9 143.7 1037.5 143.9 1038.4 144.1 1045.1 144.3 1036.1 144.5 1031.2 144.7 1036.4 144.9 1033.7 145.1 1038.4 145.3 1037 145.5 1037.5 145.7 1033.9 145.9 1037.8 146.1 1034.1 146.3 1038.1 146.5 1034.9 146.7 1031.7 146.9 1038 147.1 1033.2 147.3 1041.7 147.5 1037.7 147.7 1037.8 147.9 1036.4 148.1 1035.7 148.3 1026.5 148.5 1040.7 148.7 1032.7 148.9 1039.6 149.1 1033.3 149.3 1035.3 149.5 1034.9 149.7 1031.7 149.9 1035.1 150.1 1037.6 150.3 1034.1 150.5 1030.8 150.7 1033.5 150.9 1036.7 151.1 1040.2 151.3 1039 151.5 1036.8 151.7 1031.7 151.9 1039.2 152.1 1035.7 152.3 1034.6 152.5 1039.1 152.7 1038 152.9 1037.5 153.1 1031 153.3 1033.1 153.5 1028.8 153.7 1036.2 153.9 1035.5 154.1 1039.1 154.3 1036.2 154.5 1033.9 154.7 1043.7 154.9 1031.3 155.1 1030.1 155.3 1032.9 155.5 1037.4 155.7 1033.9 155.9 1033.5 156.1 1030.8 156.3 1041 156.5 1032.8 156.7 1030.9 156.9 1034.7 157.1 1032 157.3 1034.2 157.5 1040.4 157.7 1033.3 157.9 1034.9 158.1 1033.6 158.3 1034.3 158.5 1038.2 158.7 1037.1 158.9 1033.6 159.1 1031.3 159.3 1034.4 159.5 1038.2 159.7 1034.8 159.9 1034.4 160.1 1027.8 160.3 1038.8 160.5 1029 160.7 1029.8 160.9 1033.3 161.1 1034.9 161.3 1034.9 161.5 1031.7 161.7 1033.5 161.9 1032.3 162.1 1027.6 162.3 1033.7 162.5 1031.9 162.7 1036.3 162.9 1034 163.1 1038.4 163.3 1037.3 163.5 1038.1 163.7 1039.3 163.9 1037.2 164.1 1033.8 164.3 1039.8 164.5 1030.8 164.7 1034.3 164.9 1037.8 165.1 1033.3 165.3 1037.2 165.5 1031.2 165.7 1032.2 165.9 1036.5 166.1 1037.1 166.3 1039 166.5 1034 166.7 1035.4 166.9 1036.7 167.1 1036 167.3 1029.1 167.4 1031.9 167.6 1039.8 167.8 1029.3 168 1036.6 168.2 1032.4 168.4 1038 168.6 1031 168.8 1034.2 169 1026.1 169.2 1033.8 169.4 1038.2 169.6 1028.1 169.8 1038.6 170 1031.1 170.2 1033.7 170.4 1023 170.6 1038.1 170.8 1030.4 171 1031.7 171.2 1028.8 171.4 1029.9 171.6 1038.2 171.8 1031.7 172 1037.2 172.2 1033 172.4 1035 172.6 1031.7 172.8 1035.3 173 1043.7 173.2 1036.1 173.4 1035.6 173.6 1031.7 173.8 1037.5 174 1038.8 174.2 1026.9 174.4 1028.1 174.6 1041.7 174.8 1035.1 175 1033.9 175.2 1035.6 175.4 1037.7 175.6 1036.5 175.8 1032.5 176 1041.4 176.2 1033.3 176.4 1029.9 176.6 1031.1 176.8 1032.7 177 1031.7 177.2 1032.5 177.4 1034.4 177.6 1020.4 177.8 1030.1 178 1036.8 178.2 1035.3 178.4 1030.4 178.6 1030.6 178.8 1037.5 179 1032 179.2 1030.9 179.4 1040.2 179.6 1031.5 179.8 1035.6 180 1032.7 180.2 1033.1 180.4 1029.2 180.6 1029.6 180.8 1037.7 181 1028.4 181.2 1033.9 181.4 1028.1 181.6 1031.8 181.8 1032.6 182 1026.4 182.2 1037.1 182.4 1031.9 182.6 1037.4 182.8 1029 183 1036.2 183.2 1041.7 183.4 1033.4 183.6 1030 183.8 1034.4 184 1033 184.2 1031.7 184.4 1032 184.6 1030.2 184.8 1034.1 185 1030.9 185.2 1029 185.4 1035.5 185.6 1031.7 185.8 1042.6 186 1031.3 186.2 1029.5 186.4 1030.1 186.6 1033.7 186.8 1029.5 187 1027.3 187.2 1038.5 187.4 1027.3 187.6 1038 187.8 1032.6 188 1028 188.2 1038.5 188.4 1031.2 188.6 1028.1 188.8 1032.2 189 1037 189.2 1034.6 189.4 1035.1 189.6 1038.7 189.8 1032.7 190 1033.3 190.2 1031 190.4 1026.2 190.6 1031.2 190.8 1038 191 1025 191.2 1036.9 191.4 1032.7 191.6 1028.1 191.8 1031.9 192 1038.5 192.2 1029.4 192.4 1034.7 192.6 1035.9 192.8 1028.1 193 1034 193.2 1033.6 193.4 1029.6 193.6 1034.1 193.8 1030 194 1029.2 194.2 1026.6 194.4 1032.8 194.6 1029.7 194.8 1029.1 195 1026.8 195.2 1026 195.4 1028.2 195.6 1034 195.8 1028 196 1036.8 196.2 1032.7 196.4 1031.7 196.6 1026.4 196.8 1038.6 197 1025.5 197.2 1033.1 197.4 1037.6 197.6 1030.2 197.8 1028.3 198 1030.9 198.2 1034.4 198.4 1036.1 198.6 1033.2 198.8 1026.7 199 1028.2 199.2 1031.6 199.4 1025.8 199.6 1029.8 199.8 1039.4 200 1026.6 200.2 1035.1 200.4 1027 200.6 1029.3 200.8 1030.3 201 1024.7 201.2 1030.1 201.4 1035.5 201.6 1033.3 201.8 1033.2 202 1027.3 202.2 1029.9 202.4 1031.2 202.6 1033 202.8 1035.5 203 1026.5 203.2 1036.8 203.4 1029.2 203.6 1029.3 203.7 1025.5 203.9 1029.9 204.1 1029.3 204.3 1025.4 204.5 1029 204.7 1030.5 204.9 1028.5 205.1 1033 205.3 1026.1 205.5 1033.4 205.7 1029.2 205.9 1031.4 206.1 1022.8 206.3 1030.4 206.5 1029.6 206.7 1033.4 206.9 1025.2 207.1 1035 207.3 1025.6 207.5 1034.8 207.7 1031.9 207.9 1026.8 208.1 1038 208.3 1025 208.5 1028.9 208.7 1030.3 208.9 1031.5 209.1 1030.4 209.3 1032.5 209.5 1031.2 209.7 1029.5 209.9 1025.8 210.1 1028 210.3 1032.8 210.5 1024.8 210.7 1029.7 210.9 1021.4 211.1 1026.5 211.3 1023 211.5 1033.9 211.7 1022.1 211.9 1028.2 212.1 1031.9 212.3 1031.4 212.5 1032 212.7 1033.1 212.9 1030.8 213.1 1032.1 213.3 1028.7 213.5 1028.8 213.7 1022.1 213.9 1029.5 214.1 1033.7 214.3 1025.9 214.5 1024.3 214.7 1029.1 214.9 1033 215.1 1033.3 215.3 1022.9 215.5 1030.3 215.7 1026.1 215.9 1029.6 216.1 1019.9 216.3 1032 216.5 1026.9 216.7 1029.2 216.9 1027.7 217.1 1024.4 217.3 1030.3 217.5 1026.5 217.7 1025.6 217.9 1030.8 218.1 1027.9 218.3 1025.5 218.5 1031.7 218.7 1025.9 218.9 1028 219.1 1030.9 219.3 1031.6 219.5 1032.6 219.7 1034.3 219.9 1028.1 220.1 1024.9 220.3 1034.2 220.5 1033.2 220.7 1026.7 220.9 1030.5 221.1 1026.3 221.3 1021.8 221.5 1031.7 221.7 1029 221.9 1028.1 222.1 1034.1 222.3 1033 222.5 1025.1 222.7 1023.3 222.9 1020.3 223.1 1027.5 223.3 1025.9 223.5 1028.8 223.7 1027.4 223.9 1024.8 224.1 1025.8 224.3 1021.3 224.5 1031.9 224.7 1025.2 224.9 1029.5 225.1 1024.6 225.3 1027.4 225.5 1029.5 225.7 1026 225.9 1023.9 226.1 1035.8 226.3 1026.2 226.5 1029.1 226.7 1026.6 226.9 1023.9 227.1 1031.8 227.3 1028.3 227.5 1028.1 227.7 1018.1 227.9 1027.8 228.1 1029.8 228.3 1027.7 228.5 1026 228.7 1031.1 228.9 1027.5 229.1 1028.7 229.3 1030.4 229.5 1030.2 229.7 1021.4 229.9 1027.6 230.1 1023.4 230.3 1018.7 230.5 1027.3 230.7 1019.6 230.9 1024.4 231.1 1016.6 231.3 1022.2 231.5 1024.3 231.7 1026 231.9 1024 232.1 1022.5 232.3 1022.5 232.5 1031.7 232.7 1024.1 232.9 1025.5 233.1 1033 233.3 1019.2 233.5 1017.9 233.7 1021.8 233.9 1024.2 234.1 1021.3 234.3 1025.4 234.5 1025.2 234.7 1019.7 234.9 1026.1 235.1 1020 235.3 1028.1 235.5 1026.2 235.7 1033.6 235.9 1028.4 236.1 1024.5 236.3 1026.5 236.5 1025.8 236.7 1022.4 236.9 1019.6 237.1 1029.3 237.3 1030.8 237.5 1023.3 237.7 1024 237.9 1023.1 238.1 1028.7 238.3 1029.5 238.5 1021.6 238.7 1023.5 238.9 1022.8 239.1 1025.6 239.3 1027.6 239.5 1028.7 239.7 1023.6 239.9 1020.9 240 1026.6 240.2 1026.8 240.4 1023.2 240.6 1025.1 240.8 1025.8 241 1027.7 241.2 1024.6 241.4 1026.2 241.6 1025 241.8 1020.6 242 1026.9 242.2 1024.6 242.4 1028.1 242.6 1019.6 242.8 1021.4 243 1025.3 243.2 1017.5 243.4 1023.5 243.6 1022.2 243.8 1022.3 244 1022.9 244.2 1015.4 244.4 1023.9 244.6 1024 244.8 1027.7 245 1029.1 245.2 1025 245.4 1027.1 245.6 1014.6 245.8 1025.6 246 1027.6 246.2 1026.7 246.4 1024.3 246.6 1022 246.8 1022 247 1023.4 247.2 1024.9 247.4 1025.4 247.6 1022.8 247.8 1018.4 248 1029.9 248.2 1019.8 248.4 1013 248.6 1028.3 248.8 1026.7 249 1023.6 249.2 1026.5 249.4 1024.5 249.6 1019.7 249.8 1023.2 250 1018.1 250.2 1020.2 250.4 1019.4 250.6 1023.2 250.8 1026.5 251 1020.1 251.2 1024.2 251.4 1014.4 251.6 1018.4 251.8 1024.3 252 1025.9 252.2 1025.8 252.4 1026.2 252.6 1016 252.8 1020.2 253 1012.4 253.2 1021.5 253.4 1022.9 253.6 1020.7 253.8 1018.5 254 1023.5 254.2 1023.8 254.4 1022.3 254.6 1019.5 254.8 1021.9 255 1022 255.2 1022.6 255.4 1023.9 255.6 1021.4 255.8 1016.1 256 1020.4 256.2 1022.8 256.4 1019.7 256.6 1022.1 256.8 1018.7 257 1026.2 257.2 1022.7 257.4 1021.7 257.6 1023.9 257.8 1023.9 258 1021.3 258.2 1024.7 258.4 1023.3 258.6 1021.7 258.8 1020.8 259 1016.7 259.2 1021.4 259.4 1021.3 259.6 1017.5 259.8 1025.6 260 1020.5 260.2 1016.5 260.4 1018.9 260.6 1020.2 260.8 1020.2 261 1017.4 261.2 1020.4 261.4 1014.8 261.6 1018.6 261.8 1021.7 262 1017.6 262.2 1022.4 262.4 1022.9 262.6 1017.7 262.8 1011 263 1023.1 263.2 1024.8 263.4 1013.8 263.6 1020.5 263.8 1020.8 264 1013.6 264.2 1017.6 264.4 1024.1 264.6 1020.3 264.8 1019.5 265 1023.7 265.2 1017.2 265.4 1012.6 265.6 1024.2 265.8 1016.3 266 1019.1 266.2 1023.4 266.4 1020.1 266.6 1019.6 266.8 1016.7 267 1021.1 267.2 1027 267.4 1016.7 267.6 1014.7 267.8 1019.9 268 1016 268.2 1019.1 268.4 1018.7 268.6 1020.4 268.8 1019.2 269 1019.6 269.2 1023.1 269.4 1014.8 269.6 1018.5 269.8 1019.4 270 1013.7 270.2 1014.7 270.4 1016.9 270.6 1016.1 270.8 1022.1 271 1018.4 271.2 1028.6 271.4 1016.4 271.6 1016.6 271.8 1026 272 1015.6 272.2 1025.7 272.4 1006.1 272.6 1015.1 272.8 1022.6 273 1023.2 273.2 1019 273.4 1014.9 273.6 1016.7 273.8 1020 274 1018.3 274.2 1020.5 274.4 1014.3 274.6 1020 274.8 1021.6 275 1028.1 275.2 1019.4 275.4 1019.3 275.6 1013.6 275.8 1011.7 276 1008.2 276.1 1018.2 276.3 1023.8 276.5 1016 276.7 1007.2 276.9 1016.9 277.1 1015.4 277.3 1014.7 277.5 1022.5 277.7 1020.5 277.9 1021.4 278.1 1013 278.3 1017.1 278.5 1011.7 278.7 1019.9 278.9 1011.5 279.1 1020.2 279.3 1016.4 279.5 1016.3 279.7 1010.1 279.9 1017.9 280.1 1008.6 280.3 1010.6 280.5 1011.7 280.7 1022.6 280.9 1015.3 281.1 1012.4 281.3 1016.7 281.5 1023.4 281.7 1014.1 281.9 1010.8 282.1 1010.5 282.3 1014.2 282.5 1020.5 282.7 1013.8 282.9 1013.3 283.1 1010.5 283.3 1009.9 283.5 1017.8 283.7 1015.2 283.9 1015.3 284.1 1008.7 284.3 1015.7 284.5 1014.7 284.7 1019 284.9 1017.2 285.1 1012.5 285.3 1014.4 285.5 1014.3 285.7 1012.7 285.9 1009.8 286.1 1016.1 286.3 1021 286.5 1012.4 286.7 1018.5 286.9 1011.4 287.1 1011.2 287.3 1012.3 287.5 1011.2 287.7 1015.7 287.9 1016.3 288.1 1002.7 288.3 1014.8 288.5 1013.2 288.7 1018 288.9 1008.4 289.1 1012 289.3 1015.8 289.5 1014.6 289.7 1016.8 289.9 1008.3 290.1 1008.6 290.3 1013.1 290.5 1005.9 290.7 1012.4 290.9 1014 291.1 1011.8 291.3 1005.6 291.5 1008.3 291.7 1009.1 291.9 1011.6 292.1 1010.9 292.3 1008.4 292.5 1003.8 292.7 1003.2 292.9 1006 293.1 1005.8 293.3 1007.1 293.5 1005.4 293.7 1008.6 293.9 1006.8 294.1 1009.6 294.3 1008.7 294.5 1010.7 294.7 1005.1 294.9 1005.3 295.1 1004.4 295.3 1008.5 295.5 1010.7 295.7 1012.1 295.9 1008.5 296.1 1007.3 296.3 1010.3 296.5 1007.4 296.7 1003.9 296.9 1009.9 297.1 1005.7 297.3 1001.9 297.5 1006.3 297.7 1003.9 297.9 1006.6 298.1 1004.1 298.3 1005.3 298.5 1004.2 298.7 1005.8 298.9 1008.2 299.1 1006.9 299.3 1005.9 299.5 1009.4 299.7 1000.9 299.9 1006.1 300.1 1009.5 300.3 1007.3 300.5 1009.1 300.7 1001.8 300.9 1008.9 301.1 1002.4 301.3 1008.6 301.5 1005.5 301.7 1007.5 301.9 1001.6 302.1 1003.5 302.3 997.7 302.5 1005.2 302.7 1006.4 302.9 1005 303.1 1007.6 303.3 1005.7 303.5 1003.9 303.7 1005.3 303.9 1001.3 304.1 1006.3 304.3 1003.9 304.5 1004 304.7 1002.3 304.9 1000.6 305.1 999.2 305.3 1001.4 305.5 1004.7 305.7 996 305.9 1002.4 306.1 1014.1 306.3 1002.5 306.5 1001.1 306.7 1002.9 306.9 1001 307.1 1001.7 307.3 1001.7 307.5 997.7 307.7 1005 307.9 1001.5 308.1 1004.5 308.3 1001.1 308.5 1004 308.7 1000.5 308.9 1010.5 309.1 1003.9 309.3 1004.4 309.5 999.5 309.7 994.4 309.9 998.4 310.1 1001 310.3 999.6 310.5 997.1 310.7 996.3 310.9 994.5 311.1 996.9 311.3 1000.4 311.5 1000.4 311.7 1000.1 311.9 997.2 312.1 998.3 312.3 997.4 312.4 998.7 312.6 998.1 312.8 999 313 996.3 313.2 996.3 313.4 1001 313.6 1000.5 313.8 989 314 996.9 314.2 996.7 314.4 998.2 314.6 988.1 314.8 989.4 315 993.3 315.2 994.9 315.4 990.6 315.6 997.9 315.8 997.3 316 995.9 316.2 996.3 316.4 989.6 316.6 992.7 316.8 985.4 317 996 317.2 996.4 317.4 993.8 317.6 989 317.8 992.2 318 995.1 318.2 987.7 318.4 992.3 318.6 993.7 318.8 988.7 319 989.2 319.2 994.7 319.4 993.1 319.6 995.1 319.8 991.2 320 987 320.2 989.8 320.4 987.7 320.6 988.8 320.8 991 321 994.1 321.2 989.5 321.4 994.9 321.6 984.4 321.8 987.9 322 988.4 322.2 981.3 322.4 982.7 322.6 986.6 322.8 987.9 323 988.7 323.2 987.4 323.4 985.9 323.6 982.4 323.8 986.7 324 991.4 324.2 987.5 324.4 983.7 324.6 986.1 324.8 986.9 325 989.3 325.2 983.4 325.4 986.5 325.6 986.4 325.8 983.5 326 983.9 326.2 982.7 326.4 984 326.6 984.5 326.8 979.6 327 982.7 327.2 987.8 327.4 982.7 327.6 976.7 327.8 986.9 328 981.4 328.2 982.4 328.4 983.4 328.6 980.2 328.8 978.1 329 978.8 329.2 981.7 329.4 980.6 329.6 979.5 329.8 986.8 330 980.7 330.2 982.7 330.4 986.1 330.6 979.7 330.8 977.9 331 978.1 331.2 979 331.4 984 331.6 981.5 331.8 977.4 332 976 332.2 979.9 332.4 982.9 332.6 975.3 332.8 981.7 333 977.6 333.2 976.5 333.4 975.4 333.6 973.9 333.8 974.3 334 979.2 334.2 970.9 334.4 973.6 334.6 974.6 334.8 971 335 972.7 335.2 969.6 335.4 975.5 335.6 975.3 335.8 968.9 336 977 336.2 969.5 336.4 966.5 336.6 966.6 336.8 973 337 964.3 337.2 970.7 337.4 971.4 337.6 973.3 337.8 969.1 338 973.2 338.2 968.2 338.4 971.8 338.6 965.9 338.8 969.3 339 967.2 339.2 968.3 339.4 973.9 339.6 967.1 339.8 966.9 340 966.8 340.2 967 340.4 959.3 340.6 967.5 340.8 961 341 958.8 341.2 964.5 341.4 960.2 341.6 964.1 341.8 966.2 342 962.6 342.2 959.2 342.4 962 342.6 967.1 342.8 960.9 343 965.3 343.2 963.9 343.4 955.9 343.6 961.3 343.8 954.5 344 959.3 344.2 958.7 344.4 956.1 344.6 951.6 344.8 954.4 345 954 345.2 955.6 345.4 953.5 345.6 954.5 345.8 951.6 346 947.4 346.2 951.1 346.4 954.4 346.6 947.6 346.8 946.4 347 943.3 347.2 952.9 347.4 944.4 347.6 949.4 347.8 946.3 348 944.8 348.2 944.7 348.4 948.7 348.6 947.5 348.7 943.7 348.9 940.5 349.1 944.7 349.3 941.9 349.5 939.7 349.7 940 349.9 936 350.1 939 350.3 935.7 350.5 935 350.7 931.9 350.9 934.4 351.1 934.4 351.3 928.9 351.5 932.6 351.7 932.1 351.9 933.4 352.1 932.2 352.3 927.2 352.5 930.8 352.7 928.3 352.9 925.8 353.1 923.6 353.3 926.8 353.5 925.9 353.7 922 353.9 923.1 354.1 920.5 354.3 918.9 354.5 917.8 354.7 920.6 354.9 919 355.1 918.4 355.3 917.2 355.5 916.1 355.7 917.2 355.9 910.6 356.1 915.4 356.3 910.2 356.5 911.5 356.7 911.4 356.9 910.4 357.1 910.6 357.3 906.8 357.5 911.6 357.7 909.5 357.9 907.5 358.1 907.1 358.3 903.9 358.5 900.2 358.7 899.9 358.9 903.3 359.1 896 359.3 903.9 359.5 900.7 359.7 897 359.9 896.9 360.1 893.9 360.3 896.1 360.5 896.2 360.7 897 360.9 891.1 361.1 894.9 361.3 892.3 361.5 890.7 361.7 890 361.9 889.7 362.1 891.6 362.3 889.9 362.5 887.6 362.7 883.7 362.9 883.6 363.1 884.7 363.3 882.7 363.5 879.5 363.7 883.3 363.9 883.2 364.1 878.7 364.3 876 364.5 875.5 364.7 872.5 364.9 871.1 365.1 872.6 365.3 870.4 365.5 871.2 365.7 873.3 365.9 867.9 366.1 865.8 366.3 864.8 366.5 864 366.7 864.3 366.9 860.9 367.1 860.6 367.3 856.2 367.5 854.9 367.7 854.7 367.9 854.9 368.1 850.6 368.3 852.4 368.5 847.5 368.7 847.4 368.9 845.2 369.1 845.6 369.3 840.1 369.5 838.1 369.7 836.8 369.9 836 370.1 833.6 370.3 828.8 370.5 827 370.7 823.9 370.9 825.1 371.1 821 371.3 818.6 371.5 812.8 371.7 812.9 371.9 809.7 372.1 808.2 372.3 802.8 372.5 803.1 372.7 799.6 372.9 796.7 373.1 792.3 373.3 792.3 373.5 788 373.7 785.3 373.9 782.2 374.1 779 374.3 776.3 374.5 773.1 374.7 770.6 374.9 766.9 375.1 762.7 375.3 759.9 375.5 756.9 375.7 752.5 375.9 749.4 376.1 746.5 376.3 742.7 376.5 738.8 376.7 735.8 376.9 732.6 377.1 729.1 377.3 725.7 377.5 723 377.7 718.9 377.9 716.4 378.1 713.5 378.3 710.1 378.5 707.2 378.7 704.4 378.9 701.7 379.1 698.8 379.3 696.1 379.5 693.4 379.7 690.2 379.9 687.6 380.1 685 380.3 681.6 380.5 679.4 380.7 676.4 380.9 673.9 381.1 671.3 381.3 669.2 381.5 666.2 381.6 664.4 381.7 665.4 381.9 667.4 382.1 669.4 382.3 672.3 382.5 674.6 382.7 676.7 382.9 678.8 383.1 681.6 383.3 684.1 383.5 687.3 383.7 689.3 383.9 692.4 384.1 695.2 384.3 697.7 384.5 700.6 384.7 703.6 384.8 706.4 385 708.7 385.2 712.3 385.4 714.4 385.6 717.8 385.8 721.4 386 723.8 386.2 728.1 386.4 732 386.6 734.6 386.8 737.5 387 742.7 387.2 745.1 387.4 748.6 387.6 752.4 387.8 756.4 388 760.1 388.2 765.4 388.4 767.2 388.6 770.2 388.8 773.8 389 778.1 389.2 783.2 389.4 783.9 389.6 788.2 389.8 792.3 390 794.6 390.2 798 390.4 801.2 390.6 805.2 390.8 807.3 391 813 391.2 812.6 391.4 818.9 391.6 822.3 391.8 824.2 392 826.8 392.2 831.8 392.4 831.8 392.6 835.6 392.8 837.5 393 841.7 393.2 842.6 393.4 845.4 393.6 849.7 393.8 850.9 394 853.5 394.2 857.7 394.4 854 394.6 858.1 394.8 861 395 865.1 395.2 862.8 395.4 866.1 395.6 868.9 395.8 867.7 396 870.4 396.2 872.8 396.4 873.3 396.6 876.8 396.8 878.8 397 877.9 397.2 881.2 397.4 882.2 397.6 882.7 397.8 882.5 398 888.3 398.2 884.3 398.4 888.1 398.6 890.5 398.8 885 399 889.8 399.2 888.4 399.4 892.9 399.6 895.7 399.8 894.1 400 896.7 400.2 899 400.4 897.1 400.6 899 400.8 898.4 401 902.7 401.2 902 401.4 906.7 401.6 907.1 401.8 902.6 402 906.8 402.2 907.8 402.4 908.7 402.6 910.1 402.8 909.7 403 913.3 403.2 913.6 403.4 914 403.6 912.7 403.8 917.6 404 912.7 404.2 919.2 404.4 919.2 404.6 916.8 404.8 920.7 405 926.2 405.2 921.7 405.4 921.1 405.6 923.9 405.8 925.8 406 929.5 406.2 925.7 406.4 929.4 406.6 928.5 406.8 931.9 407 930.8 407.2 928.2 407.4 933.4 407.6 935.2 407.8 932.8 408 928.9 408.2 932.7 408.4 935.9 408.6 938.5 408.8 936.2 409 941 409.2 937.9 409.4 936.5 409.6 942 409.8 939.9 410 946 410.2 946.2 410.4 943.1 410.6 943.3 410.8 946.4 411 949.6 411.2 947.7 411.4 947.9 411.6 951.9 411.8 951.6 412 948.8 412.2 949.6 412.4 946.2 412.6 952.3 412.8 952.7 413 955.9 413.2 953.4 413.4 954.9 413.6 955.7 413.8 956.1 414 957.5 414.2 957.4 414.4 963.1 414.6 960.1 414.8 962.3 415 962.9 415.2 959.6 415.4 957.5 415.6 960.6 415.8 963.6 416 965.3 416.2 961.8 416.4 968.4 416.6 966.1 416.8 970.2 417 965.6 417.2 960.4 417.4 971.2 417.6 971.6 417.8 977.6 418 971.7 418.2 973 418.4 977.9 418.6 964.8 418.8 969.4 419 968.4 419.2 976 419.4 974.7 419.6 977.7 419.8 971.7 420 974.9 420.2 977.5 420.4 977.6 420.6 977.8 420.8 982.5 421 977.5 421.1 978.8 421.3 979.2 421.5 983.3 421.7 978.5 421.9 979 422.1 979.7 422.3 978 422.5 983 422.7 982.1 422.9 978 423.1 983.3 423.3 985.6 423.5 991 423.7 986 423.9 991.2 424.1 987.8 424.3 991.9 424.5 984.1 424.7 984 424.9 988.1 425.1 988.2 425.3 989.7 425.5 991.4 425.7 986.5 425.9 991.4 426.1 989.2 426.3 997.9 426.5 991.2 426.7 990.7 426.9 998.4 427.1 987.6 427.3 998.8 427.5 994.8 427.7 992.6 427.9 993 428.1 994.8 428.3 996.1 428.5 992.9 428.7 996.9 428.9 998.4 429.1 996.3 429.3 1001.8 429.5 993.8 429.7 997.6 429.9 1000.8 430.1 999.4 430.3 1003.2 430.5 1001.7 430.7 995.1 430.9 1003.9 431.1 997.4 431.3 1003.5 431.5 1000.1 431.7 1004.1 431.9 992.4 432.1 1003.3 432.3 1000.6 432.5 1006.7 432.7 1007.1 432.9 1006.7 433.1 1001.8 433.3 1002.7 433.5 999.9 433.7 1002.9 433.9 1003.7 434.1 1005.5 434.3 1008.7 434.5 1001.1 434.7 1005 434.9 1006.8 435.1 1004.4 435.3 999.2 435.5 1003.8 435.7 1003.5 435.9 1001.8 436.1 1006.7 436.3 1004.9 436.5 1005.6 436.7 1007.1 436.9 1006.6 437.1 1009 437.3 1009.2 437.5 1008.4 437.7 1009.2 437.9 1010.6 438.1 1007 438.3 1012.2 438.5 1013.4 438.7 1008.5 438.9 1014 439.1 1011.4 439.3 1011.4 439.5 1016.2 439.7 1005.5 439.9 1013.3 440.1 1008.1 440.3 1011.4 440.5 1003.1 440.7 1014.1 440.9 1015.5 441.1 1007.8 441.3 1017.3 441.5 1009.7 441.7 1011.4 441.9 1008.1 442.1 1013.8 442.3 1011 442.5 1011.8 442.7 1012.9 442.9 1008.9 443.1 1014.8 443.3 1012.1 443.5 1018.1 443.7 1013.2 443.9 1015.4 444.1 1015.3 444.3 1018.3 444.5 1019.3 444.7 1014.5 444.9 1010.9 445.1 1014.5 445.3 1013.4 445.5 1017.3 445.7 1014.1 445.9 1016.5 446.1 1016.2 446.3 1016.6 446.5 1012.4 446.7 1020 446.9 1014.5 447.1 1010.5 447.3 1013.8 447.5 1015.4 447.7 1015.4 447.9 1018.5 448.1 1015.3 448.3 1018.3 448.5 1021 448.7 1014.7 448.9 1015.8 449.1 1023.7 449.3 1020.3 449.5 1022.1 449.7 1018.5 449.9 1019.2 450.1 1019 450.3 1016.7 450.5 1023.9 450.7 1015.8 450.9 1017.7 451.1 1016.1 451.3 1027.3 451.5 1017.5 451.7 1025.2 451.9 1016.2 452.1 1028.8 452.3 1030.7 452.5 1021.5 452.7 1027.5 452.9 1017.3 453.1 1020.6 453.3 1027.2 453.5 1023 453.7 1021 453.9 1023.3 454.1 1021.1 454.3 1020.8 454.5 1027 454.7 1016.6 454.9 1021.7 455.1 1024 455.3 1027.6 455.5 1025 455.7 1022.9 455.9 1016.3 456.1 1035.7 456.3 1022.1 456.5 1027.8 456.7 1020.6 456.9 1029 457.1 1020.4 457.3 1023.7 457.4 1026.4 457.6 1021.6 457.8 1029.4 458 1026.7 458.2 1031.1 458.4 1030.2 458.6 1025.6 458.8 1022.8 459 1026.1 459.2 1031.7 459.4 1021.7 459.6 1032 459.8 1022.1 460 1030.4 460.2 1030.2 460.4 1025.2 460.6 1023.2 460.8 1028.7 461 1030.9 461.2 1024.2 461.4 1030.9 461.6 1030.3 461.8 1024.7 462 1022.5 462.2 1029.7 462.4 1028.6 462.6 1024.5 462.8 1026.8 463 1038.5 463.2 1032.9 463.4 1032.6 463.6 1027.7 463.8 1030.8 464 1035.3 464.2 1027.5 464.4 1028.9 464.6 1029.9 464.8 1029.5 465 1033.7 465.2 1028.8 465.4 1032.4 465.6 1033 465.8 1033.2 466 1033.1 466.2 1026.9 466.4 1027.4 466.6 1025.6 466.8 1033.4 467 1035 467.2 1034.8 467.4 1039 467.6 1032.2 467.8 1037.6 468 1034.1 468.2 1036.9 468.4 1030.9 468.6 1033.5 468.8 1030.7 469 1029.7 469.2 1025.7 469.4 1038.1 469.6 1035.8 469.8 1045.7 470 1034.9 470.2 1036.2 470.4 1030.8 470.6 1039.3 470.8 1032.5 471 1043.4 471.2 1044.8 471.4 1027.8 471.6 1032.7 471.8 1030.4 472 1032.4 472.2 1030.8 472.4 1037.3 472.6 1041.1 472.8 1036.5 473 1041.7 473.2 1038.2 473.4 1040.7 473.6 1042.5 473.8 1033.3 474 1043.4 474.2 1033.3 474.4 1033.1 474.6 1040.3 474.8 1033.5 475 1032.9 475.2 1040.3 475.4 1036.1 475.6 1035 475.8 1034.4 476 1033.7 476.2 1038.4 476.4 1037 476.6 1035.1 476.8 1046.1 477 1040.4 477.2 1032.9 477.4 1039.2 477.6 1035.3 477.8 1036 478 1045.8 478.2 1043.5 478.4 1039.5 478.6 1042.9 478.8 1032.7 479 1041.5 479.2 1041.8 479.4 1035.9 479.6 1032.1 479.8 1041.2 480 1040.1 480.2 1038.7 480.4 1039.4 480.6 1039.6 480.8 1042.9 481 1045.2 481.2 1037.6 481.4 1044.6 481.6 1037.7 481.8 1036.7 482 1038.6 482.2 1042.3 482.4 1041.8 482.6 1039.7 482.8 1035.7 483 1043.9 483.2 1038.7 483.4 1040 483.6 1036.9 483.8 1047.3 484 1038.6 484.2 1034.9 484.4 1043.7 484.6 1040.3 484.8 1044 485 1044 485.2 1033.7 485.4 1039.7 485.6 1050.2 485.8 1042.9 486 1043 486.2 1045.1 486.4 1046.1 486.6 1041.3 486.8 1044.8 487 1044.4 487.2 1042.4 487.4 1041.4 487.6 1044.6 487.8 1043.1 488 1037.9 488.2 1036.4 488.4 1041.5 488.6 1041.4 488.8 1047.5 489 1041.8 489.2 1041.7 489.4 1040.3 489.6 1042.8 489.8 1043.6 490 1046.5 490.2 1040 490.4 1044.2 490.6 1045.8 490.8 1035.2 491 1043.4 491.2 1038.5 491.4 1040 491.6 1041.2 491.8 1041 492 1038.8 492.2 1043 492.4 1044.5 492.6 1041.2 492.8 1038 493 1040.6 493.2 1049 493.4 1044.8 493.6 1040.4 493.7 1038.1 493.9 1043.5 494.1 1043.4 494.3 1051.4 494.5 1036.3 494.7 1044.3 494.9 1046.7 495.1 1047 495.3 1037 495.5 1044.5 495.7 1043.2 495.9 1044.1 496.1 1044.5 496.3 1040 496.5 1044.8 496.7 1039.3 496.9 1036.8 497.1 1040.5 497.3 1043.7 497.5 1049.6 497.7 1041.3 497.9 1048.9 498.1 1039.5 498.3 1040.4 498.5 1037 498.7 1042.6 498.9 1042.8 499.1 1046.2 499.3 1041.3 499.5 1043.6 499.7 1037.9 499.9 1041.9 500.1 1049.8 500.3 1038.7 500.5 1043 500.7 1046.5 500.9 1045.6 501.1 1042.1 501.3 1040.9 501.5 1038 501.7 1048.2 501.9 1036.5 502.1 1041.6 502.3 1038.2 502.5 1040.6 502.7 1037.6 502.9 1042.5 503.1 1046.1 503.3 1040.4 503.5 1042.7 503.7 1043.5 503.9 1041.3 504.1 1050 504.3 1039.2 504.5 1040.8 504.7 1046.7 504.9 1043.9 505.1 1042.6 505.3 1047.9 505.5 1034.5 505.7 1044.6 505.9 1048.5 506.1 1038.3 506.3 1054.9 506.5 1045 506.7 1045.2 506.9 1045.7 507.1 1044 507.3 1052.7 507.5 1038.6 507.7 1040 507.9 1046 508.1 1046.1 508.3 1039.4 508.5 1048.1 508.7 1038.8 508.9 1041 509.1 1041.7 509.3 1044.1 509.5 1042.9 509.7 1044.9 509.9 1046.3 510.1 1046.6 510.3 1039.7 510.5 1041.3 510.7 1049.4 510.9 1046.3 511.1 1046.7 511.3 1039 511.5 1029.6 511.7 1045.3" stroke="#ff0000" stroke-width="3"/>
<path d="M194.8 1031.3 V991.2M220.5 1027.9 V1008.7M226 1027 V982.3M317.2 992.8 V946.3M233.2 1025.8 V1012.8M478.7 1038.5 V1023.5M508.5 1043.7 V1026" stroke="#ff0000" stroke-width="2.5"/>
</g>
<circle cx="203" cy="632.5" r="55.7" fill="#000"/>
<defs><radialGradient id="gdb" cx="0.5" cy="0.5" r="0.5"><stop offset="0" stop-color="#161616"/><stop offset="0.12" stop-color="#0e0e0e"/><stop offset="0.17" stop-color="#000"/><stop offset="0.22" stop-color="#141414"/><stop offset="0.4" stop-color="#1c1c1c"/><stop offset="0.55" stop-color="#3a3a3a"/><stop offset="0.68" stop-color="#767676"/><stop offset="0.78" stop-color="#8a8a8a"/><stop offset="0.88" stop-color="#6a6a6a"/><stop offset="0.95" stop-color="#3e3e3e"/><stop offset="1" stop-color="#202020"/></radialGradient><radialGradient id="gdbh" cx="0.5" cy="0.5" r="0.5"><stop offset="0.45" stop-color="#fff" stop-opacity="0"/><stop offset="0.62" stop-color="#fff" stop-opacity="0.55"/><stop offset="0.7" stop-color="#fff" stop-opacity="0.45"/><stop offset="0.85" stop-color="#fff" stop-opacity="0.05"/><stop offset="1" stop-color="#fff" stop-opacity="0"/></radialGradient><linearGradient id="gdbm" x1="0.35" y1="0" x2="0.5" y2="1"><stop offset="0" stop-color="#fff"/><stop offset="0.45" stop-color="#fff" stop-opacity="0.35"/><stop offset="1" stop-color="#fff" stop-opacity="0.05"/></linearGradient><mask id="mdb" maskUnits="userSpaceOnUse" x="390" y="632" width="113" height="112"><rect x="390" y="632" width="113" height="112" fill="url(#gdbm)"/></mask></defs><circle cx="446.5" cy="688" r="55.5" fill="url(#gdb)"/><circle cx="446.5" cy="688" r="55.5" fill="url(#gdbh)" mask="url(#mdb)"/><circle cx="447" cy="688.5" r="8" fill="none" stroke="#000" stroke-width="2.2"/><path d="M451 681 a8 8 0 0 0 0 15" fill="none" stroke="#000" stroke-width="1.8"/>
<rect x="114.0" y="489.8" width="396.7" height="560.2" fill="none" stroke="#262626" stroke-width="3.3"/>
<path d="M180.5 1050 v-5 M180.5 489.8 v5 M245.3 1050 v-5 M245.3 489.8 v5 M298.3 1050 v-5 M298.3 489.8 v5 M343 1050 v-5 M343 489.8 v5 M381.8 1050 v-5 M381.8 489.8 v5 M416 1050 v-5 M416 489.8 v5 M446.6 1050 v-5 M446.6 489.8 v5 M474.3 1050 v-5 M474.3 489.8 v5 M499.6 1050 v-5 M499.6 489.8 v5 M114 1043.1 h4.8 M510.7 1043.1 h-4.8 M114 1037.2 h4.8 M510.7 1037.2 h-4.8 M114 1032 h8.5 M510.7 1032 h-8.5 M114 997.6 h4.8 M510.7 997.6 h-4.8 M114 977.5 h4.8 M510.7 977.5 h-4.8 M114 963.2 h4.8 M510.7 963.2 h-4.8 M114 952.1 h4.8 M510.7 952.1 h-4.8 M114 943.1 h4.8 M510.7 943.1 h-4.8 M114 935.4 h4.8 M510.7 935.4 h-4.8 M114 928.8 h4.8 M510.7 928.8 h-4.8 M114 922.9 h4.8 M510.7 922.9 h-4.8 M114 917.7 h4.8 M510.7 917.7 h-4.8 M114 883.3 h4.8 M510.7 883.3 h-4.8 M114 863.2 h4.8 M510.7 863.2 h-4.8 M114 848.9 h4.8 M510.7 848.9 h-4.8 M114 837.8 h4.8 M510.7 837.8 h-4.8 M114 828.8 h4.8 M510.7 828.8 h-4.8 M114 821.1 h4.8 M510.7 821.1 h-4.8 M114 814.5 h4.8 M510.7 814.5 h-4.8 M114 808.6 h4.8 M510.7 808.6 h-4.8 M114 803.4 h8.5 M510.7 803.4 h-8.5 M114 769 h4.8 M510.7 769 h-4.8 M114 748.9 h4.8 M510.7 748.9 h-4.8 M114 734.6 h4.8 M510.7 734.6 h-4.8 M114 723.5 h4.8 M510.7 723.5 h-4.8 M114 714.5 h4.8 M510.7 714.5 h-4.8 M114 706.8 h4.8 M510.7 706.8 h-4.8 M114 700.2 h4.8 M510.7 700.2 h-4.8 M114 694.3 h4.8 M510.7 694.3 h-4.8 M114 689.1 h4.8 M510.7 689.1 h-4.8 M114 654.7 h4.8 M510.7 654.7 h-4.8 M114 634.6 h4.8 M510.7 634.6 h-4.8 M114 620.3 h4.8 M510.7 620.3 h-4.8 M114 609.2 h4.8 M510.7 609.2 h-4.8 M114 600.2 h4.8 M510.7 600.2 h-4.8 M114 592.5 h4.8 M510.7 592.5 h-4.8 M114 585.9 h4.8 M510.7 585.9 h-4.8 M114 580 h4.8 M510.7 580 h-4.8 M114 574.8 h8.5 M510.7 574.8 h-8.5 M114 540.4 h4.8 M510.7 540.4 h-4.8 M114 520.3 h4.8 M510.7 520.3 h-4.8 M114 506 h4.8 M510.7 506 h-4.8 M114 494.9 h4.8 M510.7 494.9 h-4.8" stroke="#262626" stroke-width="3" fill="none"/>
<path d="M120 514.8 H167" stroke="#262626" stroke-width="3.2"/>
<path d="M120 550 H167" stroke="#ff0000" stroke-width="3.2"/>
<text x="172" y="522.6" font-family="Liberation Serif" font-size="29" textLength="99.5" lengthAdjust="spacingAndGlyphs" fill="#000">Uniform</text>
<text x="172" y="556.6" font-family="Liberation Serif" font-size="29" textLength="125" lengthAdjust="spacingAndGlyphs" fill="#000">Optimized</text>
<text x="74.24" y="593.30" font-family="Liberation Sans" font-size="31" fill="#262626">0</text><path d="M68.55 593.30 L65.83 593.30 L65.83 575.94 C64.28 577.33 61.65 578.98 59.05 579.91 L59.05 577.27 C61.96 576.09 65.12 573.83 66.30 571.10 L68.55 571.10 Z" fill="#262626"/>
<text font-family="Liberation Sans" fill="#262626" font-size="25.5" x="90.5" y="578.6">2</text>
<text x="74.24" y="821.90" font-family="Liberation Sans" font-size="31" fill="#262626">0</text><path d="M68.55 821.90 L65.83 821.90 L65.83 804.54 C64.28 805.93 61.65 807.58 59.05 808.51 L59.05 805.87 C61.96 804.69 65.12 802.43 66.30 799.70 L68.55 799.70 Z" fill="#262626"/>
<text font-family="Liberation Sans" fill="#262626" font-size="25.5" x="90.5" y="807.2">0</text>
<text x="65.84" y="1050.00" font-family="Liberation Sans" font-size="31" fill="#262626">0</text><path d="M60.15 1050.00 L57.43 1050.00 L57.43 1032.64 C55.88 1034.04 53.25 1035.68 50.65 1036.61 L50.65 1033.97 C53.56 1032.80 56.72 1030.53 57.90 1027.80 L60.15 1027.80 Z" fill="#262626"/>
<rect x="83.2" y="1027.6" width="6.8" height="2.4" fill="#262626"/>
<text font-family="Liberation Sans" fill="#262626" font-size="25.5" x="90.5" y="1034.8">2</text>
<text font-family="Liberation Sans" fill="#262626" font-size="32" x="180.3" y="1091" text-anchor="middle">20</text>
<text font-family="Liberation Sans" fill="#262626" font-size="32" x="381.6" y="1091" text-anchor="middle">40</text>
<text x="311" y="1128.5" font-family="Liberation Serif" font-size="34" textLength="249" lengthAdjust="spacingAndGlyphs" text-anchor="middle" fill="#262626">Frequency (kHz)</text>
<g transform="translate(29.8 770.5) rotate(-90)"><text font-family="Liberation Serif" font-style="italic" font-size="34" text-anchor="middle" fill="#262626" x="0" y="0" textLength="199" lengthAdjust="spacingAndGlyphs">S<tspan font-size="22" dy="7">zz</tspan><tspan dy="-7">(nm</tspan><tspan font-size="22" dy="-12">2</tspan><tspan dy="12">/Hz)</tspan></text></g>
<text x="122.6" y="1016.9" font-family="Liberation Sans" font-weight="bold" font-size="51" fill="#000">b</text>
</g>
<g id="pc">
<clipPath id="cc"><rect x="506.7" y="489.8" width="399.8" height="560.2"/></clipPath>
<g clip-path="url(#cc)">
<path d="M510.7 953h0M511.7 959h0M512.7 955.1h0M513.6 961.8h0M514.6 967.4h0M515.6 960.4h0M516.6 970h0M517.6 930.6h0M518.5 952.4h0M519.5 952.9h0M520.5 936.6h0M521.5 960h0M522.5 950h0M523.4 957.2h0M524.4 959.3h0M525.4 935.4h0M526.4 937.8h0M527.4 954.3h0M528.3 949.7h0M529.3 941h0M530.3 953.7h0M531.3 955.1h0M532.2 957.7h0M533.2 943.3h0M534.2 947.6h0M535.2 954.7h0M536.2 944.6h0M537.1 951.6h0M538.1 943.4h0M539.1 937.9h0M540.1 941h0M541.1 947.7h0M542 945.9h0M543 937.3h0M544 940.2h0M545 933.6h0M546 937.3h0M546.9 945.6h0M547.9 930.3h0M548.9 925.9h0M549.9 927.3h0M550.9 950.6h0M551.8 922.8h0M552.8 951.1h0M553.8 933.8h0M554.8 935.7h0M555.8 937.8h0M556.7 936.9h0M557.7 941.1h0M558.7 940.7h0M559.7 937.8h0M560.7 938.1h0M561.6 937.8h0M562.6 930.9h0M563.6 940.6h0M564.6 942.1h0M565.6 939.9h0M566.5 936.8h0M567.5 939.5h0M568.5 928h0M569.5 942.7h0M570.4 933.9h0M571.4 929.6h0M572.4 967.4h0M573.4 931.3h0M574.4 938h0M575.3 928.2h0M576.3 934.8h0M577.3 927.3h0M578.3 926.8h0M579.3 930.4h0M580.2 934.8h0M581.2 941.4h0M582.2 920.5h0M583.2 936h0M584.2 921.9h0M585.1 935.2h0M586.1 922.9h0M587.1 920.8h0M588.1 929.6h0M589.1 919.7h0M590 924.1h0M591 917.8h0M592 917.6h0M593 918.2h0M594 919.8h0M594.9 918.3h0M595.9 914.4h0M596.9 911.1h0M597.9 902.6h0M598.9 913.2h0M599.8 915.9h0M600.8 936.4h0M601.8 918.9h0M602.8 914.9h0M603.8 910.7h0M604.7 906.3h0M605.7 910.3h0M606.7 902.8h0M607.7 908.4h0M608.6 946.8h0M609.6 892.9h0M610.6 900.6h0M611.6 906.3h0M612.6 899.9h0M613.5 893.8h0M614.5 892.9h0M615.5 901.3h0M616.5 898.8h0M617.5 898.1h0M618.4 891.3h0M619.4 889h0M620.4 895h0M621.4 892.9h0M622.4 894.7h0M623.3 911.1h0M624.3 902.4h0M625.3 889.3h0M626.3 905.4h0M627.3 901.7h0M628.2 890.5h0M629.2 892h0M630.2 891.9h0M631.2 899h0M632.2 898.1h0M633.1 889.9h0M634.1 882.7h0M635.1 888.5h0M636.1 880.7h0M637.1 891.1h0M638 893.6h0M639 885.8h0M640 891.6h0M641 895.7h0M642 885.7h0M642.9 883.7h0M643.9 895.5h0M644.9 887.3h0M645.9 882.7h0M646.9 873.1h0M647.8 884.2h0M648.8 884.7h0M649.8 878.8h0M650.8 882.5h0M651.7 885.9h0M652.7 878.5h0M653.7 872.8h0M654.7 884.4h0M655.7 878.3h0M656.6 876.6h0M657.6 880.4h0M658.6 875.4h0M659.6 876.6h0M660.6 884h0M661.5 876.7h0M662.5 875.6h0M663.5 882.2h0M664.5 878h0M665.5 879.4h0M666.4 873.5h0M667.4 869h0M668.4 875.3h0M669.4 880.3h0M670.4 879.8h0M671.3 883.9h0M672.3 881.1h0M673.3 881.3h0M674.3 880.9h0M675.3 878.3h0M676.2 869.2h0M677.2 873.3h0M678.2 876.3h0M679.2 865.4h0M680.2 874h0M681.1 874.5h0M682.1 877.1h0M683.1 877.3h0M684.1 879.8h0M685.1 874h0M686 872.5h0M687 877.1h0M688 871.4h0M689 881h0M689.9 878h0M690.9 869.8h0M691.9 880h0M692.9 885.9h0M693.9 874h0M694.8 876.5h0M695.8 874.6h0M696.8 874.3h0M697.8 875.6h0M698.8 875.6h0M699.7 872.1h0M700.7 872.6h0M701.7 874.8h0M702.7 871.9h0M703.7 872h0M704.6 879.6h0M705.6 876.5h0M706.6 880.2h0M707.6 880.3h0M708.6 871h0M709.5 873.7h0M710.5 864.2h0M711.5 871.4h0M712.5 871.9h0M713.5 871.7h0M714.4 867.7h0M715.4 871.4h0M716.4 871h0M717.4 868.8h0M718.4 874.8h0M719.3 867.7h0M720.3 873.3h0M721.3 871.5h0M722.3 870h0M723.3 855.1h0M724.2 871h0M725.2 867.5h0M726.2 868.3h0M727.2 868.7h0M728.1 871.2h0M729.1 865.6h0M730.1 865.9h0M731.1 869.2h0M732.1 867.9h0M733 868.6h0M734 860.7h0M735 870h0M736 871.8h0M737 871.3h0M737.9 867.4h0M738.9 862.5h0M739.9 847.6h0M740.9 852h0M741.9 862.1h0M742.8 857.4h0M743.8 861.7h0M744.8 866.3h0M745.8 862.8h0M746.8 858.8h0M747.7 870.4h0M748.7 860.3h0M749.7 868.9h0M750.7 861.4h0M751.7 867.4h0M752.6 860.7h0M753.6 860.7h0M754.6 868.4h0M755.6 867.2h0M756.6 867h0M757.5 860.4h0M758.5 862h0M759.5 862.5h0M760.5 857.1h0M761.5 860.9h0M762.4 864.3h0M763.4 865.4h0M764.4 865.5h0M765.4 861.7h0M766.3 866.1h0M767.3 866.2h0M768.3 860.3h0M769.3 858.1h0M770.3 855.9h0M771.2 862.9h0M772.2 859.8h0M773.2 863.8h0M774.2 860.2h0M775.2 859.7h0M776.1 870.5h0M777.1 868.3h0M778.1 861.1h0M779.1 862.2h0M780.1 860.3h0M781 863.1h0M782 860.3h0M783 853.8h0M784 859.6h0M785 857.4h0M785.9 863h0M786.9 859.1h0M787.9 855.3h0M788.9 859h0M789.9 852.4h0M790.8 854h0M791.8 861.4h0M792.8 862h0M793.8 857.5h0M794.8 857.7h0M795.7 861.2h0M796.7 862.2h0M797.7 860.9h0M798.7 859.6h0M799.7 859.6h0M800.6 865.3h0M801.6 864.8h0M802.6 860.8h0M803.6 864.8h0M804.5 858.3h0M805.5 851h0M806.5 857.6h0M807.5 857.2h0M808.5 860.4h0M809.4 856h0M810.4 849.6h0M811.4 855.3h0M812.4 858.4h0M813.4 853.8h0M814.3 856.7h0M815.3 852.5h0M816.3 854.6h0M817.3 855.6h0M818.3 853.5h0M819.2 853.3h0M820.2 851h0M821.2 856.4h0M822.2 849.1h0M823.2 853.6h0M824.1 852.7h0M825.1 863.1h0M826.1 855.3h0M827.1 847.9h0M828.1 845.8h0M829 846.5h0M830 852h0M831 845.1h0M832 856.1h0M833 852.9h0M833.9 856.1h0M834.9 847.2h0M835.9 852.4h0M836.9 852h0M837.9 845.1h0M838.8 854.6h0M839.8 846.6h0M840.8 853.2h0M841.8 838h0M842.8 848.3h0M843.7 854.4h0M844.7 850h0M845.7 847.5h0M846.7 846.2h0M847.6 849.2h0M848.6 850.4h0M849.6 852.3h0M850.6 843.9h0M851.6 843.4h0M852.5 849.3h0M853.5 853.2h0M854.5 846.7h0M855.5 849.2h0M856.5 851h0M857.4 844.9h0M858.4 847.2h0M859.4 845.5h0M860.4 851.1h0M861.4 846h0M862.3 844.2h0M863.3 843.8h0M864.3 845.2h0M865.3 849.8h0M866.3 840.5h0M867.2 839h0M868.2 848.4h0M869.2 842.7h0M870.2 854h0M871.2 848.2h0M872.1 841.8h0M873.1 837.4h0M874.1 844.6h0M875.1 848.3h0M876.1 842.2h0M877 843.9h0M878 840.1h0M879 845.2h0M880 847h0M881 847.1h0M881.9 836.4h0M882.9 843.7h0M883.9 850.2h0M884.9 839.8h0M885.8 834.8h0M886.8 839.3h0M887.8 841.1h0M888.8 848.3h0M889.8 836.1h0M890.7 841.6h0M891.7 839.4h0M892.7 838.8h0M893.7 838.9h0M894.7 835h0M895.6 835.7h0M896.6 839.9h0M897.6 842.2h0M898.6 848.6h0M899.6 842.6h0M900.5 843.7h0M901.5 839.8h0M902.5 835h0" stroke="#46c888" stroke-width="8" stroke-linecap="round" fill="none"/>
<path d="M510.7 960h0M511.7 954.3h0M512.7 978.4h0M513.6 964.4h0M514.6 966.9h0M515.6 964.2h0M516.6 950.2h0M517.6 966.1h0M518.5 950h0M519.5 932.5h0M520.5 959.2h0M521.5 947.9h0M522.5 943.9h0M523.4 961h0M524.4 955.4h0M525.4 962.7h0M526.4 949.1h0M527.4 913.1h0M528.3 939h0M529.3 924.4h0M530.3 943.1h0M531.3 934.9h0M532.2 968.5h0M533.2 916.9h0M534.2 932.3h0M535.2 939.6h0M536.2 925.6h0M537.1 926.1h0M538.1 920.4h0M539.1 945.4h0M540.1 949.3h0M541.1 933.9h0M542 977.5h0M543 919.6h0M544 940.4h0M545 993.9h0M546 949.4h0M546.9 910.8h0M547.9 922.8h0M548.9 960.8h0M549.9 932.9h0M550.9 931.4h0M551.8 933.3h0M552.8 940.1h0M553.8 932.6h0M554.8 925.9h0M555.8 926.6h0M556.7 917h0M557.7 940.4h0M558.7 918.8h0M559.7 917.4h0M560.7 943.5h0M561.6 933.9h0M562.6 921.6h0M563.6 910.5h0M564.6 920.6h0M565.6 938.7h0M566.5 933.9h0M567.5 915.6h0M568.5 929h0M569.5 926.9h0M570.4 912.1h0M571.4 919.4h0M572.4 915.1h0M573.4 929.2h0M574.4 913.9h0M575.3 925h0M576.3 916.4h0M577.3 909.4h0M578.3 930.7h0M579.3 917.7h0M580.2 920.1h0M581.2 917.2h0M582.2 907.6h0M583.2 911h0M584.2 913.3h0M585.1 925.5h0M586.1 929.1h0M587.1 899.2h0M588.1 915.5h0M589.1 907.2h0M590 911.2h0M591 906.1h0M592 907h0M593 906.7h0M594 907h0M594.9 914.2h0M595.9 903h0M596.9 909.1h0M597.9 907.1h0M598.9 892.3h0M599.8 898.4h0M600.8 904.4h0M601.8 907.1h0M602.8 903h0M603.8 901.1h0M604.7 899.3h0M605.7 897.5h0M606.7 896.6h0M607.7 899.8h0M608.6 904.5h0M609.6 888.8h0M610.6 887.3h0M611.6 889.2h0M612.6 902.4h0M613.5 900.8h0M614.5 878.2h0M615.5 884.9h0M616.5 892.2h0M617.5 880.6h0M618.4 890.3h0M619.4 885.1h0M620.4 873.5h0M621.4 888.2h0M622.4 884.4h0M623.3 864.3h0M624.3 884.7h0M625.3 871.3h0M626.3 872.1h0M627.3 879.9h0M628.2 872.3h0M629.2 852h0M630.2 866.7h0M631.2 863.7h0M632.2 859.5h0M633.1 869.7h0M634.1 862h0M635.1 861.4h0M636.1 850.9h0M637.1 864h0M638 887.1h0M639 858.5h0M640 856.5h0M641 849.8h0M642 848.9h0M642.9 854.1h0M643.9 849.9h0M644.9 847.9h0M645.9 845h0M646.9 847.6h0M647.8 844.7h0M648.8 852.2h0M649.8 846.5h0M650.8 846.5h0M651.7 842.9h0M652.7 842.9h0M653.7 838.8h0M654.7 848.2h0M655.7 841.4h0M656.6 839.2h0M657.6 839.3h0M658.6 840.5h0M659.6 829.3h0M660.6 830.9h0M661.5 822h0M662.5 830.4h0M663.5 820.2h0M664.5 829.8h0M665.5 828.7h0M666.4 835.1h0M667.4 832.1h0M668.4 828.2h0M669.4 820.1h0M670.4 827.5h0M671.3 820.2h0M672.3 819.7h0M673.3 828.2h0M674.3 826.3h0M675.3 827.6h0M676.2 820.2h0M677.2 825.5h0M678.2 823.9h0M679.2 816.6h0M680.2 823.9h0M681.1 823.1h0M682.1 823.9h0M683.1 821.8h0M684.1 827.2h0M685.1 819.2h0M686 818.3h0M687 807.1h0M688 821.7h0M689 815.9h0M689.9 826.6h0M690.9 814.1h0M691.9 820.5h0M692.9 816.3h0M693.9 810.8h0M694.8 817h0M695.8 818.5h0M696.8 816.6h0M697.8 818.1h0M698.8 816.5h0M699.7 812.8h0M700.7 808.1h0M701.7 821.9h0M702.7 812.9h0M703.7 817.7h0M704.6 824.8h0M705.6 820.7h0M706.6 817.9h0M707.6 823.1h0M708.6 817h0M709.5 818.9h0M710.5 815.7h0M711.5 815.1h0M712.5 826h0M713.5 818h0M714.4 815h0M715.4 815.7h0M716.4 813h0M717.4 814h0M718.4 811.1h0M719.3 814.3h0M720.3 815.3h0M721.3 810.6h0M722.3 820.5h0M723.3 823.5h0M724.2 812.3h0M725.2 821.2h0M726.2 822.5h0M727.2 818.6h0M728.1 817h0M729.1 820.4h0M730.1 811.7h0M731.1 819.4h0M732.1 813.4h0M733 820.3h0M734 810.7h0M735 813.9h0M736 812.5h0M737 827.2h0M737.9 813.2h0M738.9 818.1h0M739.9 818.5h0M740.9 822.3h0M741.9 810h0M742.8 818.4h0M743.8 822.2h0M744.8 815.5h0M745.8 819.1h0M746.8 822.7h0M747.7 819.6h0M748.7 816.6h0M749.7 818.8h0M750.7 816.5h0M751.7 822.7h0M752.6 822.1h0M753.6 820.9h0M754.6 823.4h0M755.6 809.9h0M756.6 820.5h0M757.5 814.6h0M758.5 813.6h0M759.5 818.6h0M760.5 819h0M761.5 817.3h0M762.4 814.6h0M763.4 817h0M764.4 818.2h0M765.4 814.9h0M766.3 825.2h0M767.3 823.5h0M768.3 816.3h0M769.3 823.7h0M770.3 812.7h0M771.2 821.7h0M772.2 812.7h0M773.2 817.8h0M774.2 816.7h0M775.2 815.6h0M776.1 811.1h0M777.1 812.8h0M778.1 817.3h0M779.1 822.4h0M780.1 818.4h0M781 821.9h0M782 808.7h0M783 819.1h0M784 826.2h0M785 812.1h0M785.9 817h0M786.9 822.3h0M787.9 820.8h0M788.9 820.3h0M789.9 826.2h0M790.8 821.4h0M791.8 814.3h0M792.8 809.7h0M793.8 826.3h0M794.8 817.8h0M795.7 821.7h0M796.7 818.9h0M797.7 815.7h0M798.7 818.1h0M799.7 824.9h0M800.6 823.1h0M801.6 820.6h0M802.6 816h0M803.6 809.4h0M804.5 816.8h0M805.5 816.8h0M806.5 820.8h0M807.5 818.6h0M808.5 819.7h0M809.4 809.7h0M810.4 815.9h0M811.4 824.8h0M812.4 820.6h0M813.4 819.3h0M814.3 815.2h0M815.3 822h0M816.3 822.1h0M817.3 817h0M818.3 815.4h0M819.2 817.5h0M820.2 817h0M821.2 815.9h0M822.2 814.8h0M823.2 818.2h0M824.1 805.7h0M825.1 818.2h0M826.1 819.7h0M827.1 816.2h0M828.1 817.5h0M829 815h0M830 812.7h0M831 817.8h0M832 819.7h0M833 823.4h0M833.9 813.3h0M834.9 816.2h0M835.9 822.2h0M836.9 826.5h0M837.9 813.1h0M838.8 816h0M839.8 815.6h0M840.8 812.5h0M841.8 815.6h0M842.8 812.4h0M843.7 813.4h0M844.7 816.1h0M845.7 811.7h0M846.7 814.6h0M847.6 811.1h0M848.6 816.6h0M849.6 812.1h0M850.6 813.4h0M851.6 809h0M852.5 822h0M853.5 816.4h0M854.5 821.8h0M855.5 814.4h0M856.5 825h0M857.4 818.7h0M858.4 811.5h0M859.4 818.3h0M860.4 807h0M861.4 820h0M862.3 811.3h0M863.3 818.1h0M864.3 815.1h0M865.3 809.8h0M866.3 810.6h0M867.2 815.2h0M868.2 810.3h0M869.2 815.6h0M870.2 814.2h0M871.2 808.5h0M872.1 812.4h0M873.1 814.7h0M874.1 816.5h0M875.1 810.1h0M876.1 817.6h0M877 817.9h0M878 809.4h0M879 821.4h0M880 810.9h0M881 813.9h0M881.9 813h0M882.9 817h0M883.9 824.1h0M884.9 819.2h0M885.8 808.5h0M886.8 812.1h0M887.8 818.7h0M888.8 810.9h0M889.8 809.9h0M890.7 814.7h0M891.7 816.7h0M892.7 815.7h0M893.7 823.3h0M894.7 803.5h0M895.6 806h0M896.6 815.8h0M897.6 813h0M898.6 815.8h0M899.6 832h0M900.5 813.7h0M901.5 812.3h0M902.5 810.6h0" stroke="#f9ce32" stroke-width="8" stroke-linecap="round" fill="none"/>
<path d="M510.7 915.8h0M511.7 944.6h0M512.7 959.7h0M513.6 961.1h0M514.6 954.3h0M515.6 963.4h0M516.6 824.3h0M517.6 987.7h0M518.5 944.1h0M519.5 964.5h0M520.5 913.3h0M521.5 967.2h0M522.5 930.1h0M523.4 937.4h0M524.4 945.4h0M525.4 945.8h0M526.4 966h0M527.4 961.1h0M528.3 980.7h0M529.3 956.7h0M530.3 985.6h0M531.3 965.9h0M532.2 963.4h0M533.2 939.2h0M534.2 969.3h0M535.2 906.8h0M536.2 954.3h0M537.1 953.7h0M538.1 898.9h0M539.1 967.5h0M540.1 910.2h0M541.1 908.5h0M542 944.1h0M543 866.2h0M544 929.6h0M545 922.6h0M546 918.6h0M546.9 936.2h0M547.9 900.1h0M548.9 863.1h0M549.9 896.4h0M550.9 892.4h0M551.8 887.6h0M552.8 884.4h0M553.8 878.1h0M554.8 872.2h0M555.8 911.3h0M556.7 863.5h0M557.7 862.4h0M558.7 881.9h0M559.7 863.8h0M560.7 862.4h0M561.6 835.4h0M562.6 849.3h0M563.6 837.8h0M564.6 833.4h0M565.6 822.9h0M566.5 836h0M567.5 839.2h0M568.5 839.8h0M569.5 831.6h0M570.4 826.5h0M571.4 855.1h0M572.4 823.4h0M573.4 850.9h0M574.4 830.1h0M575.3 825.9h0M576.3 842.6h0M577.3 847.9h0M578.3 853.2h0M579.3 842.8h0M580.2 861.5h0M581.2 836h0M582.2 834.5h0M583.2 834.6h0M584.2 849h0M585.1 846h0M586.1 808.9h0M587.1 828.3h0M588.1 842.2h0M589.1 812.2h0M590 827.6h0M591 858.3h0M592 810.2h0M593 828.9h0M594 839.7h0M594.9 829.7h0M595.9 829.5h0M596.9 870.2h0M597.9 806.5h0M598.9 849.2h0M599.8 833.3h0M600.8 820.5h0M601.8 826.8h0M602.8 843.9h0M603.8 826.8h0M604.7 798.2h0M605.7 812.7h0M606.7 852.2h0M607.7 835.5h0M608.6 810.8h0M609.6 827.8h0M610.6 820.5h0M611.6 814.1h0M612.6 787.4h0M613.5 798.3h0M614.5 820h0M615.5 812.1h0M616.5 813.7h0M617.5 805.4h0M618.4 794.7h0M619.4 812.5h0M620.4 818.7h0M621.4 780.8h0M622.4 811h0M623.3 798.8h0M624.3 793.4h0M625.3 799.5h0M626.3 802.3h0M627.3 765.2h0M628.2 825.9h0M629.2 782.5h0M630.2 763.2h0M631.2 766.7h0M632.2 731.2h0M633.1 765.8h0M634.1 765.2h0M635.1 773.4h0M636.1 760.8h0M637.1 735.4h0M638 743h0M639 733h0M640 736.2h0M641 740.1h0M642 742.6h0M642.9 732.2h0M643.9 736.1h0M644.9 732.6h0M645.9 724.1h0M646.9 709.3h0M647.8 714.2h0M648.8 700.7h0M649.8 710h0M650.8 717.5h0M651.7 717.7h0M652.7 698.1h0M653.7 686h0M654.7 697.3h0M655.7 688.6h0M656.6 707.3h0M657.6 675h0M658.6 685.3h0M659.6 682.6h0M660.6 643.4h0M661.5 673.6h0M662.5 663.2h0M663.5 655.6h0M664.5 678.9h0M665.5 716.3h0M666.4 672.5h0M667.4 657.9h0M668.4 668.5h0M669.4 648.8h0M670.4 663.7h0M671.3 663.9h0M672.3 646h0M673.3 650.3h0M674.3 645.4h0M675.3 645.1h0M676.2 642h0M677.2 645.7h0M678.2 661.7h0M679.2 641.9h0M680.2 652.4h0M681.1 631.8h0M682.1 629.9h0M683.1 638.8h0M684.1 628.1h0M685.1 634.1h0M686 627.8h0M687 631.3h0M688 616.8h0M689 634.3h0M689.9 635.6h0M690.9 630.4h0M691.9 648.8h0M692.9 622.9h0M693.9 616.3h0M694.8 618h0M695.8 640.6h0M696.8 625.1h0M697.8 627.4h0M698.8 601.9h0M699.7 629.7h0M700.7 611.7h0M701.7 622.7h0M702.7 626.2h0M703.7 626.5h0M704.6 613h0M705.6 623.9h0M706.6 619.4h0M707.6 621.9h0M708.6 627.1h0M709.5 622.3h0M710.5 611h0M711.5 616.2h0M712.5 615.6h0M713.5 608.4h0M714.4 630.8h0M715.4 624.2h0M716.4 625.8h0M717.4 618.7h0M718.4 590.3h0M719.3 614.7h0M720.3 633.9h0M721.3 614.5h0M722.3 593.3h0M723.3 603.8h0M724.2 607.8h0M725.2 615.5h0M726.2 596.3h0M727.2 613.2h0M728.1 589.7h0M729.1 602.1h0M730.1 606.3h0M731.1 607.9h0M732.1 595.7h0M733 591h0M734 603.2h0M735 598.8h0M736 613.7h0M737 599.6h0M737.9 603.1h0M738.9 587.9h0M739.9 586.7h0M740.9 584.4h0M741.9 593.6h0M742.8 630.4h0M743.8 594.4h0M744.8 594.6h0M745.8 573.1h0M746.8 587.9h0M747.7 595.3h0M748.7 582.5h0M749.7 589.5h0M750.7 595.1h0M751.7 585.5h0M752.6 580.3h0M753.6 572.3h0M754.6 590.6h0M755.6 599.9h0M756.6 578.5h0M757.5 584.1h0M758.5 590.9h0M759.5 585.4h0M760.5 577h0M761.5 563.7h0M762.4 568h0M763.4 581.4h0M764.4 580.2h0M765.4 570.2h0M766.3 567.4h0M767.3 583h0M768.3 571.9h0M769.3 566.3h0M770.3 564.2h0M771.2 562h0M772.2 559.3h0M773.2 559h0M774.2 577.2h0M775.2 576.7h0M776.1 556.1h0M777.1 559.6h0M778.1 582.5h0M779.1 550.9h0M780.1 572.1h0M781 561.3h0M782 557h0M783 566.3h0M784 569h0M785 569.4h0M785.9 554.5h0M786.9 558.3h0M787.9 569.8h0M788.9 558.7h0M789.9 560.3h0M790.8 574.4h0M791.8 566.8h0M792.8 541.2h0M793.8 549.5h0M794.8 554.2h0M795.7 563h0M796.7 548.4h0M797.7 556h0M798.7 559.4h0M799.7 513.2h0M800.6 558.3h0M801.6 551.9h0M802.6 551.5h0M803.6 553.1h0M804.5 563.5h0M805.5 567.3h0M806.5 569.6h0M807.5 548.2h0M808.5 560.7h0M809.4 566h0M810.4 560.2h0M811.4 591.6h0M812.4 550.7h0M813.4 551h0M814.3 547.9h0M815.3 540.1h0M816.3 560.4h0M817.3 543.4h0M818.3 533.3h0M819.2 541.3h0M820.2 538.5h0M821.2 542.9h0M822.2 533.8h0M823.2 542.8h0M824.1 543.4h0M825.1 550.6h0M826.1 537.1h0M827.1 541.6h0M828.1 545.1h0M829 548.6h0M830 530.6h0M831 529.8h0M832 524.4h0M833 534.7h0M833.9 521.7h0M834.9 544.7h0M835.9 533.1h0M836.9 528h0M837.9 545.7h0M838.8 516.4h0M839.8 481.6h0M840.8 531.1h0M841.8 527.7h0M842.8 522.7h0M843.7 527.5h0M844.7 516.8h0M845.7 520.2h0M846.7 526.4h0M847.6 528.2h0M848.6 529.4h0M849.6 503.3h0M850.6 532.9h0M851.6 520.5h0M852.5 524.1h0M853.5 529.8h0M854.5 526.3h0M855.5 515.8h0M856.5 506.1h0M857.4 520.5h0M858.4 523.5h0M859.4 511.4h0M860.4 529.8h0M861.4 508h0M862.3 518.8h0M863.3 521.3h0M864.3 505.8h0M865.3 524h0M866.3 506.9h0M867.2 507h0M868.2 509.2h0M869.2 527.5h0M870.2 508.8h0M871.2 505.3h0M872.1 481.4h0M873.1 510.4h0M874.1 498.4h0M875.1 516.8h0M876.1 529.5h0M877 509h0M878 510.8h0M879 510.6h0M880 527.5h0M881 513.1h0M881.9 524.8h0M882.9 514.1h0M883.9 514.3h0M884.9 513.5h0M885.8 515.5h0M886.8 520.5h0M887.8 508.8h0M888.8 500.4h0M889.8 506.2h0M890.7 507.3h0M891.7 499.2h0M892.7 506.6h0M893.7 508.2h0M894.7 503.6h0M895.6 506.1h0M896.6 504.5h0M897.6 496.8h0M898.6 505.2h0M899.6 509.3h0M900.5 515.6h0M901.5 511.8h0M902.5 515.8h0" stroke="#6680f5" stroke-width="8" stroke-linecap="round" fill="none"/>
</g>
<path d="M510.7 489.8 H902.5 V1050.0 H510.7" stroke="#262626" stroke-width="3.3" fill="none"/>
<path d="M902.5 1016.7 h-7 M510.7 1016.7 h7 M902.5 950.8 h-7 M510.7 950.8 h7 M902.5 884.9 h-7 M510.7 884.9 h7 M902.5 819 h-7 M510.7 819 h7 M902.5 753.1 h-7 M510.7 753.1 h7 M902.5 687.2 h-7 M510.7 687.2 h7 M902.5 621.3 h-7 M510.7 621.3 h7 M902.5 555.4 h-7 M510.7 555.4 h7 M706.6 1050 v-6 M706.6 489.8 v6" stroke="#262626" stroke-width="3" fill="none"/>
<text x="911.50" y="1030.00" font-family="Liberation Sans" font-size="31" fill="#262626">0.8</text>
<path d="M923.05 964.10 L920.33 964.10 L920.33 946.74 C918.78 948.13 916.15 949.78 913.55 950.71 L913.55 948.07 C916.46 946.89 919.62 944.63 920.80 941.90 L923.05 941.90 Z" fill="#262626"/>
<text x="928.74" y="898.20" font-family="Liberation Sans" font-size="31" fill="#262626">.2</text><path d="M923.05 898.20 L920.33 898.20 L920.33 880.84 C918.78 882.23 916.15 883.88 913.55 884.81 L913.55 882.17 C916.46 880.99 919.62 878.73 920.80 876.00 L923.05 876.00 Z" fill="#262626"/>
<text x="928.74" y="832.30" font-family="Liberation Sans" font-size="31" fill="#262626">.4</text><path d="M923.05 832.30 L920.33 832.30 L920.33 814.94 C918.78 816.33 916.15 817.98 913.55 818.91 L913.55 816.27 C916.46 815.09 919.62 812.83 920.80 810.10 L923.05 810.10 Z" fill="#262626"/>
<text x="928.74" y="766.40" font-family="Liberation Sans" font-size="31" fill="#262626">.6</text><path d="M923.05 766.40 L920.33 766.40 L920.33 749.04 C918.78 750.43 916.15 752.08 913.55 753.01 L913.55 750.37 C916.46 749.19 919.62 746.93 920.80 744.20 L923.05 744.20 Z" fill="#262626"/>
<text x="928.74" y="700.50" font-family="Liberation Sans" font-size="31" fill="#262626">.8</text><path d="M923.05 700.50 L920.33 700.50 L920.33 683.14 C918.78 684.53 916.15 686.18 913.55 687.11 L913.55 684.47 C916.46 683.29 919.62 681.03 920.80 678.30 L923.05 678.30 Z" fill="#262626"/>
<text x="911.50" y="634.60" font-family="Liberation Sans" font-size="31" fill="#262626">2</text>
<text x="911.50" y="568.70" font-family="Liberation Sans" font-size="31" fill="#262626">2.2</text>
<text x="911.50" y="502.80" font-family="Liberation Sans" font-size="31" fill="#262626">2.4</text>
<text font-family="Liberation Sans" fill="#262626" font-size="32" x="510.2" y="1091" text-anchor="middle">0</text>
<text font-family="Liberation Sans" fill="#262626" font-size="32" x="706.4" y="1091" text-anchor="middle">200</text>
<text font-family="Liberation Sans" fill="#262626" font-size="32" x="901.3" y="1091" text-anchor="middle">400</text>
<text x="706.5" y="1128.4" font-family="Liberation Serif" font-size="33" textLength="129" lengthAdjust="spacingAndGlyphs" text-anchor="middle" fill="#262626">Iteration</text>
<circle cx="552.2" cy="523.6" r="4" fill="#46c888"/><circle cx="552.2" cy="561.8" r="4" fill="#f9ce32"/><circle cx="552.2" cy="600" r="4" fill="#6680f5"/>
<text font-family="Liberation Serif" font-size="33" fill="#000" x="578.5" y="532">x</text><text font-family="Liberation Serif" font-size="33" fill="#000" x="578.5" y="570.5">y</text><text font-family="Liberation Serif" font-size="33" fill="#000" x="579" y="608.5">z</text>
<g transform="translate(989 770) rotate(-90)"><text font-family="Liberation Serif" font-style="italic" font-size="30" text-anchor="middle" fill="#262626" textLength="130" lengthAdjust="spacing" font-weight="normal"><tspan>κ</tspan><tspan font-size="21" dy="6">opt,i</tspan><tspan dy="-3" dx="3" font-size="37">/</tspan><tspan dx="1" dy="-3">κ</tspan><tspan font-size="21" dy="6">0,i</tspan></text></g>
<text transform="translate(520.3 1017.7) scale(0.8 1)" font-family="Liberation Sans" font-weight="bold" font-size="51" fill="#000">c</text>
</g>
<g id="pd">
<defs>
<radialGradient id="gd1" cx="0.5" cy="0.5" r="0.5"><stop offset="0" stop-color="#060606"/><stop offset="0.1" stop-color="#101010"/><stop offset="0.3" stop-color="#1a1a1a"/><stop offset="0.45" stop-color="#2e2e2e"/><stop offset="0.62" stop-color="#5e5e5e"/><stop offset="0.74" stop-color="#6c6c6c"/><stop offset="0.82" stop-color="#3a3a3a"/><stop offset="0.88" stop-color="#1c1c1c"/><stop offset="0.94" stop-color="#383838"/><stop offset="1" stop-color="#262626"/></radialGradient>
<radialGradient id="gd2" cx="0.5" cy="0.5" r="0.5"><stop offset="0" stop-color="#050505"/><stop offset="0.15" stop-color="#0a0a0a"/><stop offset="0.3" stop-color="#181818"/><stop offset="0.55" stop-color="#2e2e2e"/><stop offset="0.7" stop-color="#3e3e3e"/><stop offset="0.8" stop-color="#2a2a2a"/><stop offset="0.88" stop-color="#0a0a0a"/><stop offset="0.95" stop-color="#1c1c1c"/><stop offset="1" stop-color="#111"/></radialGradient>
<radialGradient id="gd3" cx="0.5" cy="0.5" r="0.5"><stop offset="0" stop-color="#000"/><stop offset="0.06" stop-color="#0a0a0a"/><stop offset="0.13" stop-color="#262626"/><stop offset="0.3" stop-color="#3e3e3e"/><stop offset="0.55" stop-color="#5a5a5a"/><stop offset="0.74" stop-color="#666"/><stop offset="0.82" stop-color="#2a2a2a"/><stop offset="0.88" stop-color="#141414"/><stop offset="0.94" stop-color="#6a6a6a"/><stop offset="1" stop-color="#7a7a7a"/></radialGradient>
<radialGradient id="gd4" cx="0.5" cy="0.5" r="0.5"><stop offset="0" stop-color="#0a0a0a"/><stop offset="0.15" stop-color="#121212"/><stop offset="0.3" stop-color="#353535"/><stop offset="0.5" stop-color="#8e8e8e"/><stop offset="0.68" stop-color="#d0d0d0"/><stop offset="0.78" stop-color="#c8c8c8"/><stop offset="0.85" stop-color="#7a7a7a"/><stop offset="0.92" stop-color="#333"/><stop offset="1" stop-color="#1e1e1e"/></radialGradient>
<linearGradient id="gdl" x1="0" y1="0.3" x2="1" y2="0.7"><stop offset="0" stop-color="#000" stop-opacity="0.3"/><stop offset="0.55" stop-color="#fff" stop-opacity="0"/><stop offset="1" stop-color="#fff" stop-opacity="0.3"/></linearGradient>
</defs>
<circle cx="177.7" cy="1257.7" r="55.4" fill="url(#gd1)"/>
<circle cx="177.7" cy="1257.7" r="55.4" fill="url(#gdl)"/>
<circle cx="513.2" cy="1255.4" r="55.7" fill="url(#gd2)"/>
<circle cx="513.2" cy="1255.4" r="55.7" fill="url(#gdl)"/>
<circle cx="641.4" cy="1255.4" r="55.6" fill="url(#gd3)"/>
<circle cx="641.4" cy="1255.4" r="55.6" fill="url(#gdl)"/>
<circle cx="844.4" cy="1255.0" r="56" fill="url(#gd4)"/>
<circle cx="844.4" cy="1255.0" r="56" fill="url(#gdl)"/>
<path d="M877.5 1268.5 l-3 6" stroke="#000" stroke-width="1.5"/>
<path d="M174 1660 510 1646.5 644.4 1642.1 846 1585.1" stroke="#46c888" stroke-width="4" stroke-dasharray="3.4 2.85" fill="none"/>
<path d="M174 1652.9 510 1635.2 644.4 1623.2 846 1561" stroke="#f9ce32" stroke-width="4" stroke-dasharray="3.4 2.85" fill="none"/>
<path d="M174 1599.3 510 1558.8 644.4 1536.2 846 1335.3" stroke="#6680f5" stroke-width="4" stroke-dasharray="3.4 2.85" fill="none"/>
<path d="M174 1658.8 V1661.2 M169 1658.8 h10 M169 1661.2 h10" stroke="#46c888" stroke-width="4.2" fill="none"/>
<rect x="165.5" y="1656.8" width="17" height="6.4" rx="3" fill="#46c888"/>
<path d="M510 1645 V1648 M505 1645 h10 M505 1648 h10" stroke="#46c888" stroke-width="4.2" fill="none"/>
<rect x="501.5" y="1643.3" width="17" height="6.4" rx="3" fill="#46c888"/>
<path d="M644.4 1640.1 V1644 M639.4 1640.1 h10 M639.4 1644 h10" stroke="#46c888" stroke-width="4.2" fill="none"/>
<rect x="635.9" y="1638.9" width="17" height="6.4" rx="3" fill="#46c888"/>
<path d="M846 1580.2 V1590 M841 1580.2 h10 M841 1590 h10" stroke="#46c888" stroke-width="4.2" fill="none"/>
<rect x="837.5" y="1581.9" width="17" height="6.4" rx="3" fill="#46c888"/>
<path d="M174 1651.4 V1654.3 M169 1651.4 h10 M169 1654.3 h10" stroke="#f9ce32" stroke-width="4.2" fill="none"/>
<rect x="165.5" y="1649.7" width="17" height="6.4" rx="3" fill="#f9ce32"/>
<path d="M510 1633.7 V1636.7 M505 1633.7 h10 M505 1636.7 h10" stroke="#f9ce32" stroke-width="4.2" fill="none"/>
<rect x="501.5" y="1632" width="17" height="6.4" rx="3" fill="#f9ce32"/>
<path d="M644.4 1621.4 V1624.9 M639.4 1621.4 h10 M639.4 1624.9 h10" stroke="#f9ce32" stroke-width="4.2" fill="none"/>
<rect x="635.9" y="1620" width="17" height="6.4" rx="3" fill="#f9ce32"/>
<path d="M846 1555.4 V1566.7 M841 1555.4 h10 M841 1566.7 h10" stroke="#f9ce32" stroke-width="4.2" fill="none"/>
<rect x="837.5" y="1557.8" width="17" height="6.4" rx="3" fill="#f9ce32"/>
<path d="M174 1597.9 V1600.8 M169 1597.9 h10 M169 1600.8 h10" stroke="#6680f5" stroke-width="4.2" fill="none"/>
<rect x="165.5" y="1596.1" width="17" height="6.4" rx="3" fill="#6680f5"/>
<path d="M510 1557.1 V1560.5 M505 1557.1 h10 M505 1560.5 h10" stroke="#6680f5" stroke-width="4.2" fill="none"/>
<rect x="501.5" y="1555.6" width="17" height="6.4" rx="3" fill="#6680f5"/>
<path d="M644.4 1531.8 V1540.6 M639.4 1531.8 h10 M639.4 1540.6 h10" stroke="#6680f5" stroke-width="4.2" fill="none"/>
<rect x="635.9" y="1533" width="17" height="6.4" rx="3" fill="#6680f5"/>
<path d="M846 1327.9 V1342.7 M841 1327.9 h10 M841 1342.7 h10" stroke="#6680f5" stroke-width="4.2" fill="none"/>
<rect x="837.5" y="1332.1" width="17" height="6.4" rx="3" fill="#6680f5"/>
<rect x="106.9" y="1323.0" width="807.5" height="367.20000000000005" fill="none" stroke="#262626" stroke-width="4.8"/>
<path d="M174 1690.2 v-8 M174 1323 v8 M510 1690.2 v-8 M510 1323 v8 M644.4 1690.2 v-8 M644.4 1323 v8 M846 1690.2 v-8 M846 1323 v8 M106.9 1567.4 h8 M914.4 1567.4 h-8 M106.9 1444.6 h8 M914.4 1444.6 h-8" stroke="#262626" stroke-width="4.2" fill="none"/>
<text x="155.59" y="1734.40" font-family="Liberation Sans" font-size="34" fill="#262626">75</text>
<text x="500.54" y="1734.40" font-family="Liberation Sans" font-size="34" fill="#262626">00</text><path d="M494.30 1734.40 L491.31 1734.40 L491.31 1715.36 C489.62 1716.89 486.73 1718.69 483.88 1719.71 L483.88 1716.82 C487.07 1715.53 490.54 1713.05 491.83 1710.06 L494.30 1710.06 Z" fill="#262626"/>
<text x="654.46" y="1734.40" font-family="Liberation Sans" font-size="34" fill="#262626">0</text><path d="M629.30 1734.40 L626.31 1734.40 L626.31 1715.36 C624.62 1716.89 621.73 1718.69 618.88 1719.71 L618.88 1716.82 C622.07 1715.53 625.54 1713.05 626.83 1710.06 L629.30 1710.06 ZM648.21 1734.40 L645.22 1734.40 L645.22 1715.36 C643.53 1716.89 640.64 1718.69 637.79 1719.71 L637.79 1716.82 C640.98 1715.53 644.45 1713.05 645.74 1710.06 L648.21 1710.06 Z" fill="#262626"/>
<text x="837.54" y="1734.40" font-family="Liberation Sans" font-size="34" fill="#262626">25</text><path d="M831.30 1734.40 L828.31 1734.40 L828.31 1715.36 C826.62 1716.89 823.73 1718.69 820.88 1719.71 L820.88 1716.82 C824.07 1715.53 827.54 1713.05 828.83 1710.06 L831.30 1710.06 Z" fill="#262626"/>
<text x="48.23" y="1359.60" font-family="Liberation Sans" font-size="34" fill="#262626">2.5</text>
<text x="76.59" y="1474.00" font-family="Liberation Sans" font-size="34" fill="#262626">2</text>
<text x="76.59" y="1589.30" font-family="Liberation Sans" font-size="34" fill="#262626">5</text><path d="M60.90 1589.30 L57.91 1589.30 L57.91 1570.26 C56.22 1571.79 53.33 1573.59 50.48 1574.61 L50.48 1571.72 C53.67 1570.43 57.14 1567.95 58.43 1564.96 L60.90 1564.96 Z" fill="#262626"/>
<path d="M89.26 1704.00 L86.27 1704.00 L86.27 1684.96 C84.58 1686.49 81.69 1688.29 78.83 1689.31 L78.83 1686.42 C82.03 1685.13 85.50 1682.65 86.79 1679.66 L89.26 1679.66 Z" fill="#262626"/>
<path d="M71.1 1578h3.6v2.9h-3.6Z M71.1 1585.7h3.6v3h-3.6Z" fill="#262626"/>
<text x="509.5" y="1773.5" font-family="Liberation Serif" font-size="36.5" textLength="197.5" lengthAdjust="spacingAndGlyphs" text-anchor="middle" fill="#262626">Radius (nm)</text>
<g transform="translate(41.6 1489) rotate(-90)"><text font-family="Liberation Serif" font-style="italic" font-size="30" text-anchor="middle" fill="#262626" textLength="134" lengthAdjust="spacing" font-weight="normal"><tspan>κ</tspan><tspan font-size="21" dy="6">opt,i</tspan><tspan dy="-3" dx="3" font-size="37">/</tspan><tspan dx="1" dy="-3">κ</tspan><tspan font-size="21" dy="6">0,i</tspan></text></g>
<path d="M125.6 1359.2 H172.8" stroke="#46c888" stroke-width="4" stroke-dasharray="3.4 2.85"/>
<path d="M150.4 1342.4 V1376.0 M145.3 1344.2 h10.2 M145.3 1374.2 h10.2 M146 1359.2 h9" stroke="#46c888" stroke-width="4.4" fill="none"/>
<path d="M125.6 1399.5 H172.8" stroke="#f9ce32" stroke-width="4" stroke-dasharray="3.4 2.85"/>
<path d="M150.4 1382.7 V1416.3 M145.3 1384.5 h10.2 M145.3 1414.5 h10.2 M146 1399.5 h9" stroke="#f9ce32" stroke-width="4.4" fill="none"/>
<path d="M125.6 1440 H172.8" stroke="#6680f5" stroke-width="4" stroke-dasharray="3.4 2.85"/>
<path d="M150.4 1423.2 V1456.8 M145.3 1425 h10.2 M145.3 1455 h10.2 M146 1440 h9" stroke="#6680f5" stroke-width="4.4" fill="none"/>
<text font-family="Liberation Serif" font-size="33" fill="#000" x="179" y="1368">x</text><text font-family="Liberation Serif" font-size="33" fill="#000" x="179" y="1408.5">y</text><text font-family="Liberation Serif" font-size="33" fill="#000" x="179.5" y="1448">z</text>
<text x="115" y="1659" font-family="Liberation Sans" font-weight="bold" font-size="52" fill="#000">d</text>
</g>
<path d="M275.2 952.7 V706 M275.2 952.7 H499" stroke="#000" stroke-width="4.8" fill="none"/>
<path d="M267.5 708.2 L275.3 695 L283 708.2Z M498 945 L511 952.7 L498 961Z" fill="#000"/>
<path d="M878 511.7 H382 V643" stroke="#ff0000" stroke-width="5" fill="none"/>
<path d="M374.1 641 L389.9 641 L381.9 654.6Z M876 504 L889 511.7 L876 519.5Z" fill="#ff0000"/>
</svg></body></html>
